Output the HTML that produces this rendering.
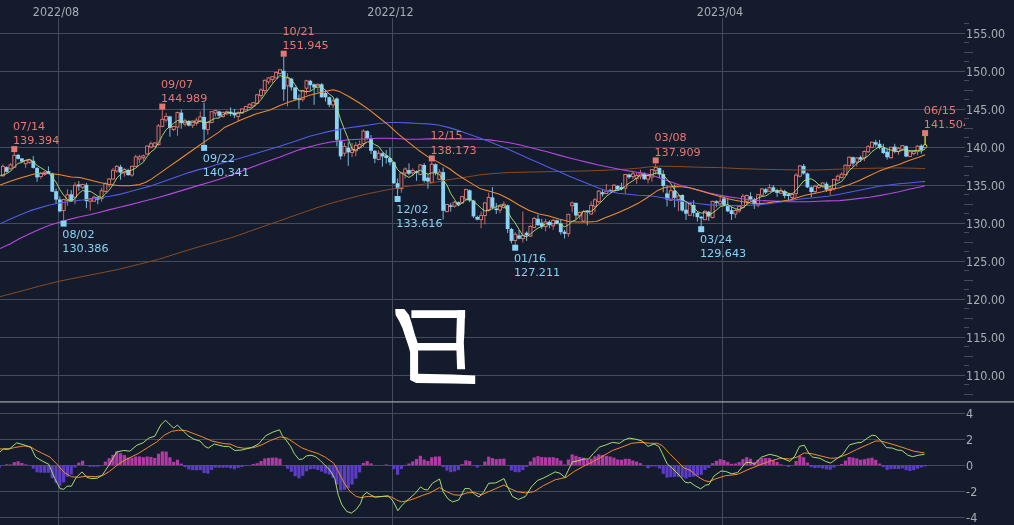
<!DOCTYPE html>
<html><head><meta charset="utf-8"><title>USD/JPY chart</title>
<style>html,body{margin:0;padding:0;background:#141b2c;}body{width:1014px;height:525px;overflow:hidden}</style>
</head><body>
<svg width="1014" height="525" viewBox="0 0 1014 525" style="display:block">
<rect width="1014" height="525" fill="#141b2c"/>
<g stroke="#444b5b" stroke-width="1" shape-rendering="crispEdges">
<line x1="0" y1="375.5" x2="965" y2="375.5"/>
<line x1="0" y1="337.5" x2="965" y2="337.5"/>
<line x1="0" y1="299.5" x2="965" y2="299.5"/>
<line x1="0" y1="261.5" x2="965" y2="261.5"/>
<line x1="0" y1="223.5" x2="965" y2="223.5"/>
<line x1="0" y1="185.5" x2="965" y2="185.5"/>
<line x1="0" y1="147.5" x2="965" y2="147.5"/>
<line x1="0" y1="109.5" x2="965" y2="109.5"/>
<line x1="0" y1="71.5" x2="965" y2="71.5"/>
<line x1="0" y1="33.5" x2="965" y2="33.5"/>
<line x1="0" y1="413.5" x2="965" y2="413.5"/>
<line x1="0" y1="439.5" x2="965" y2="439.5"/>
<line x1="0" y1="465.5" x2="965" y2="465.5"/>
<line x1="0" y1="491.5" x2="965" y2="491.5"/>
<line x1="0" y1="517.5" x2="965" y2="517.5"/>
<line x1="58.5" y1="18" x2="58.5" y2="525"/>
<line x1="392.5" y1="18" x2="392.5" y2="525"/>
<line x1="722.5" y1="18" x2="722.5" y2="525"/>
</g>
<g stroke="#444b5b" stroke-width="1" shape-rendering="crispEdges">
<line x1="964" y1="23.5" x2="969" y2="23.5"/>
<line x1="964" y1="42.5" x2="969" y2="42.5"/>
<line x1="964" y1="52.5" x2="973" y2="52.5"/>
<line x1="964" y1="61.5" x2="969" y2="61.5"/>
<line x1="964" y1="80.5" x2="969" y2="80.5"/>
<line x1="964" y1="90.5" x2="973" y2="90.5"/>
<line x1="964" y1="99.5" x2="969" y2="99.5"/>
<line x1="964" y1="118.5" x2="969" y2="118.5"/>
<line x1="964" y1="128.5" x2="973" y2="128.5"/>
<line x1="964" y1="137.5" x2="969" y2="137.5"/>
<line x1="964" y1="156.5" x2="969" y2="156.5"/>
<line x1="964" y1="166.5" x2="973" y2="166.5"/>
<line x1="964" y1="175.5" x2="969" y2="175.5"/>
<line x1="964" y1="194.5" x2="969" y2="194.5"/>
<line x1="964" y1="204.5" x2="973" y2="204.5"/>
<line x1="964" y1="213.5" x2="969" y2="213.5"/>
<line x1="964" y1="232.5" x2="969" y2="232.5"/>
<line x1="964" y1="242.5" x2="973" y2="242.5"/>
<line x1="964" y1="251.5" x2="969" y2="251.5"/>
<line x1="964" y1="270.5" x2="969" y2="270.5"/>
<line x1="964" y1="280.5" x2="973" y2="280.5"/>
<line x1="964" y1="289.5" x2="969" y2="289.5"/>
<line x1="964" y1="308.5" x2="969" y2="308.5"/>
<line x1="964" y1="318.5" x2="973" y2="318.5"/>
<line x1="964" y1="327.5" x2="969" y2="327.5"/>
<line x1="964" y1="346.5" x2="969" y2="346.5"/>
<line x1="964" y1="356.5" x2="973" y2="356.5"/>
<line x1="964" y1="365.5" x2="969" y2="365.5"/>
<line x1="964" y1="384.5" x2="969" y2="384.5"/>
<line x1="964" y1="394.5" x2="973" y2="394.5"/>
</g>
<rect x="0" y="401.3" width="1014" height="1.2" fill="#a2a6ae"/>
<g font-family='"DejaVu Sans", Verdana, "Liberation Sans", sans-serif' fill="#a9adb5">
<text transform="translate(966.1,379.9) scale(1,1.07)" font-size="11.2">110.00</text>
<text transform="translate(966.1,341.9) scale(1,1.07)" font-size="11.2">115.00</text>
<text transform="translate(966.1,303.9) scale(1,1.07)" font-size="11.2">120.00</text>
<text transform="translate(966.1,265.9) scale(1,1.07)" font-size="11.2">125.00</text>
<text transform="translate(966.1,227.9) scale(1,1.07)" font-size="11.2">130.00</text>
<text transform="translate(966.1,189.9) scale(1,1.07)" font-size="11.2">135.00</text>
<text transform="translate(966.1,151.9) scale(1,1.07)" font-size="11.2">140.00</text>
<text transform="translate(966.1,113.9) scale(1,1.07)" font-size="11.2">145.00</text>
<text transform="translate(966.1,75.9) scale(1,1.07)" font-size="11.2">150.00</text>
<text transform="translate(966.1,37.9) scale(1,1.07)" font-size="11.2">155.00</text>
<text transform="translate(966.1,418.2) scale(1,1.07)" font-size="11.2">4</text>
<text transform="translate(966.1,444.0) scale(1,1.07)" font-size="11.2">2</text>
<text transform="translate(966.1,469.9) scale(1,1.07)" font-size="11.2">0</text>
<text transform="translate(966.1,495.8) scale(1,1.07)" font-size="11.2">-2</text>
<text transform="translate(966.1,521.6) scale(1,1.07)" font-size="11.2">-4</text>
<text transform="translate(56.0,16.0) scale(1,1.07)" font-size="11.2" text-anchor="middle">2022/08</text>
<text transform="translate(390.5,16.0) scale(1,1.07)" font-size="11.2" text-anchor="middle">2022/12</text>
<text transform="translate(720.0,16.0) scale(1,1.07)" font-size="11.2" text-anchor="middle">2023/04</text>
</g>
<defs><clipPath id="c1"><rect x="0" y="18" width="965" height="383"/></clipPath><clipPath id="c2"><rect x="0" y="403" width="965" height="122"/></clipPath></defs>
<g clip-path="url(#c1)">
<line x1="2.92" y1="164.3" x2="2.92" y2="176.6" stroke="#e67872" stroke-width="1" stroke-opacity="0.85"/>
<rect x="1.42" y="166.3" width="3" height="9.5" fill="#141b2c" stroke="#e67872" stroke-width="0.9"/>
<line x1="6.71" y1="166.3" x2="6.71" y2="172.7" stroke="#88d3f6" stroke-width="1" stroke-opacity="0.85"/>
<rect x="4.81" y="167.1" width="3.8" height="4.7" fill="#88d3f6"/>
<line x1="10.51" y1="163.2" x2="10.51" y2="169.5" stroke="#e67872" stroke-width="1" stroke-opacity="0.85"/>
<rect x="9.01" y="164.8" width="3" height="4.0" fill="#141b2c" stroke="#e67872" stroke-width="0.9"/>
<line x1="14.30" y1="152.1" x2="14.30" y2="167.1" stroke="#e67872" stroke-width="1" stroke-opacity="0.85"/>
<rect x="12.80" y="155.3" width="3" height="11.9" fill="#141b2c" stroke="#e67872" stroke-width="0.9"/>
<line x1="18.09" y1="154.2" x2="18.09" y2="159.5" stroke="#88d3f6" stroke-width="1" stroke-opacity="0.85"/>
<rect x="16.20" y="154.8" width="3.8" height="4.1" fill="#88d3f6"/>
<line x1="21.89" y1="158.0" x2="21.89" y2="162.1" stroke="#88d3f6" stroke-width="1" stroke-opacity="0.85"/>
<rect x="19.99" y="158.4" width="3.8" height="3.2" fill="#88d3f6"/>
<line x1="25.69" y1="160.0" x2="25.69" y2="167.9" stroke="#e67872" stroke-width="1" stroke-opacity="0.85"/>
<rect x="24.19" y="160.5" width="3" height="3.2" fill="#141b2c" stroke="#e67872" stroke-width="0.9"/>
<line x1="29.48" y1="159.2" x2="29.48" y2="163.7" stroke="#e67872" stroke-width="1" stroke-opacity="0.85"/>
<rect x="27.98" y="160.0" width="3" height="2.4" fill="#141b2c" stroke="#e67872" stroke-width="0.9"/>
<line x1="33.28" y1="156.1" x2="33.28" y2="168.7" stroke="#88d3f6" stroke-width="1" stroke-opacity="0.85"/>
<rect x="31.38" y="160.8" width="3.8" height="7.1" fill="#88d3f6"/>
<line x1="37.07" y1="167.1" x2="37.07" y2="181.7" stroke="#88d3f6" stroke-width="1" stroke-opacity="0.85"/>
<rect x="35.17" y="167.9" width="3.8" height="9.5" fill="#88d3f6"/>
<line x1="40.86" y1="172.2" x2="40.86" y2="179.0" stroke="#e67872" stroke-width="1" stroke-opacity="0.85"/>
<rect x="39.36" y="173.1" width="3" height="3.5" fill="#141b2c" stroke="#e67872" stroke-width="0.9"/>
<line x1="44.66" y1="171.1" x2="44.66" y2="175.8" stroke="#e67872" stroke-width="1" stroke-opacity="0.85"/>
<rect x="43.16" y="172.2" width="3" height="2.1" fill="#141b2c" stroke="#e67872" stroke-width="0.9"/>
<line x1="48.45" y1="166.3" x2="48.45" y2="174.2" stroke="#88d3f6" stroke-width="1" stroke-opacity="0.85"/>
<rect x="46.55" y="171.1" width="3.8" height="2.4" fill="#88d3f6"/>
<line x1="52.25" y1="172.7" x2="52.25" y2="192.1" stroke="#88d3f6" stroke-width="1" stroke-opacity="0.85"/>
<rect x="50.35" y="173.5" width="3.8" height="18.2" fill="#88d3f6"/>
<line x1="56.05" y1="188.5" x2="56.05" y2="203.5" stroke="#88d3f6" stroke-width="1" stroke-opacity="0.85"/>
<rect x="54.15" y="191.2" width="3.8" height="8.4" fill="#88d3f6"/>
<line x1="59.84" y1="196.4" x2="59.84" y2="212.2" stroke="#88d3f6" stroke-width="1" stroke-opacity="0.85"/>
<rect x="57.94" y="199.5" width="3.8" height="11.9" fill="#88d3f6"/>
<line x1="63.64" y1="198.8" x2="63.64" y2="220.9" stroke="#e67872" stroke-width="1" stroke-opacity="0.85"/>
<rect x="62.14" y="199.5" width="3" height="11.1" fill="#141b2c" stroke="#e67872" stroke-width="0.9"/>
<line x1="67.43" y1="189.3" x2="67.43" y2="205.9" stroke="#e67872" stroke-width="1" stroke-opacity="0.85"/>
<rect x="65.93" y="194.8" width="3" height="5.5" fill="#141b2c" stroke="#e67872" stroke-width="0.9"/>
<line x1="71.22" y1="190.1" x2="71.22" y2="201.9" stroke="#88d3f6" stroke-width="1" stroke-opacity="0.85"/>
<rect x="69.32" y="194.3" width="3.8" height="6.8" fill="#88d3f6"/>
<line x1="75.02" y1="182.2" x2="75.02" y2="204.3" stroke="#e67872" stroke-width="1" stroke-opacity="0.85"/>
<rect x="73.52" y="185.3" width="3" height="11.9" fill="#141b2c" stroke="#e67872" stroke-width="0.9"/>
<line x1="78.81" y1="181.0" x2="78.81" y2="190.8" stroke="#88d3f6" stroke-width="1" stroke-opacity="0.85"/>
<rect x="76.91" y="184.5" width="3.8" height="1.9" fill="#88d3f6"/>
<line x1="82.61" y1="183.7" x2="82.61" y2="189.3" stroke="#e67872" stroke-width="1" stroke-opacity="0.85"/>
<rect x="81.11" y="184.5" width="3" height="2.8" fill="#141b2c" stroke="#e67872" stroke-width="0.9"/>
<line x1="86.41" y1="182.9" x2="86.41" y2="208.2" stroke="#88d3f6" stroke-width="1" stroke-opacity="0.85"/>
<rect x="84.50" y="184.8" width="3.8" height="16.3" fill="#88d3f6"/>
<line x1="90.20" y1="198.0" x2="90.20" y2="210.6" stroke="#e67872" stroke-width="1" stroke-opacity="0.85"/>
<rect x="88.70" y="198.8" width="3" height="2.4" fill="#141b2c" stroke="#e67872" stroke-width="0.9"/>
<line x1="93.99" y1="195.6" x2="93.99" y2="201.9" stroke="#e67872" stroke-width="1" stroke-opacity="0.85"/>
<rect x="92.49" y="197.2" width="3" height="4.0" fill="#141b2c" stroke="#e67872" stroke-width="0.9"/>
<line x1="97.79" y1="196.4" x2="97.79" y2="204.3" stroke="#88d3f6" stroke-width="1" stroke-opacity="0.85"/>
<rect x="95.89" y="197.2" width="3.8" height="2.4" fill="#88d3f6"/>
<line x1="101.58" y1="187.7" x2="101.58" y2="201.6" stroke="#e67872" stroke-width="1" stroke-opacity="0.85"/>
<rect x="100.08" y="190.8" width="3" height="7.9" fill="#141b2c" stroke="#e67872" stroke-width="0.9"/>
<line x1="105.38" y1="182.2" x2="105.38" y2="192.4" stroke="#e67872" stroke-width="1" stroke-opacity="0.85"/>
<rect x="103.88" y="183.7" width="3" height="7.9" fill="#141b2c" stroke="#e67872" stroke-width="0.9"/>
<line x1="109.17" y1="178.2" x2="109.17" y2="187.4" stroke="#e67872" stroke-width="1" stroke-opacity="0.85"/>
<rect x="107.67" y="179.0" width="3" height="5.5" fill="#141b2c" stroke="#e67872" stroke-width="0.9"/>
<line x1="112.97" y1="167.9" x2="112.97" y2="179.8" stroke="#e67872" stroke-width="1" stroke-opacity="0.85"/>
<rect x="111.47" y="170.3" width="3" height="8.7" fill="#141b2c" stroke="#e67872" stroke-width="0.9"/>
<line x1="116.77" y1="165.2" x2="116.77" y2="172.7" stroke="#e67872" stroke-width="1" stroke-opacity="0.85"/>
<rect x="115.27" y="166.3" width="3" height="4.7" fill="#141b2c" stroke="#e67872" stroke-width="0.9"/>
<line x1="120.56" y1="164.8" x2="120.56" y2="179.8" stroke="#88d3f6" stroke-width="1" stroke-opacity="0.85"/>
<rect x="118.66" y="166.8" width="3.8" height="5.8" fill="#88d3f6"/>
<line x1="124.35" y1="167.9" x2="124.35" y2="176.6" stroke="#e67872" stroke-width="1" stroke-opacity="0.85"/>
<rect x="122.85" y="169.5" width="3" height="3.2" fill="#141b2c" stroke="#e67872" stroke-width="0.9"/>
<line x1="128.15" y1="168.7" x2="128.15" y2="175.8" stroke="#88d3f6" stroke-width="1" stroke-opacity="0.85"/>
<rect x="126.25" y="170.0" width="3.8" height="5.1" fill="#88d3f6"/>
<line x1="131.94" y1="165.6" x2="131.94" y2="176.6" stroke="#e67872" stroke-width="1" stroke-opacity="0.85"/>
<rect x="130.44" y="166.3" width="3" height="8.7" fill="#141b2c" stroke="#e67872" stroke-width="0.9"/>
<line x1="135.74" y1="154.8" x2="135.74" y2="167.1" stroke="#e67872" stroke-width="1" stroke-opacity="0.85"/>
<rect x="134.24" y="156.9" width="3" height="9.5" fill="#141b2c" stroke="#e67872" stroke-width="0.9"/>
<line x1="139.53" y1="154.8" x2="139.53" y2="163.2" stroke="#e67872" stroke-width="1" stroke-opacity="0.85"/>
<rect x="138.03" y="156.9" width="3" height="2.1" fill="#141b2c" stroke="#e67872" stroke-width="0.9"/>
<line x1="143.33" y1="154.5" x2="143.33" y2="160.8" stroke="#e67872" stroke-width="1" stroke-opacity="0.85"/>
<rect x="141.83" y="155.8" width="3" height="1.9" fill="#141b2c" stroke="#e67872" stroke-width="0.9"/>
<line x1="147.12" y1="145.4" x2="147.12" y2="154.8" stroke="#e67872" stroke-width="1" stroke-opacity="0.85"/>
<rect x="145.62" y="146.1" width="3" height="7.9" fill="#141b2c" stroke="#e67872" stroke-width="0.9"/>
<line x1="150.92" y1="141.4" x2="150.92" y2="148.5" stroke="#e67872" stroke-width="1" stroke-opacity="0.85"/>
<rect x="149.42" y="143.8" width="3" height="3.2" fill="#141b2c" stroke="#e67872" stroke-width="0.9"/>
<line x1="154.72" y1="142.2" x2="154.72" y2="146.9" stroke="#e67872" stroke-width="1" stroke-opacity="0.85"/>
<rect x="153.22" y="143.0" width="3" height="3.2" fill="#141b2c" stroke="#e67872" stroke-width="0.9"/>
<line x1="158.51" y1="124.0" x2="158.51" y2="145.4" stroke="#e67872" stroke-width="1" stroke-opacity="0.85"/>
<rect x="157.01" y="125.9" width="3" height="18.7" fill="#141b2c" stroke="#e67872" stroke-width="0.9"/>
<line x1="162.31" y1="109.0" x2="162.31" y2="127.2" stroke="#e67872" stroke-width="1" stroke-opacity="0.85"/>
<rect x="160.81" y="119.3" width="3" height="7.1" fill="#141b2c" stroke="#e67872" stroke-width="0.9"/>
<line x1="166.10" y1="112.9" x2="166.10" y2="122.4" stroke="#e67872" stroke-width="1" stroke-opacity="0.85"/>
<rect x="164.60" y="116.4" width="3" height="3.6" fill="#141b2c" stroke="#e67872" stroke-width="0.9"/>
<line x1="169.90" y1="115.8" x2="169.90" y2="136.7" stroke="#88d3f6" stroke-width="1" stroke-opacity="0.85"/>
<rect x="168.00" y="116.4" width="3.8" height="11.5" fill="#88d3f6"/>
<line x1="173.69" y1="125.6" x2="173.69" y2="131.1" stroke="#e67872" stroke-width="1" stroke-opacity="0.85"/>
<rect x="172.19" y="126.4" width="3" height="3.2" fill="#141b2c" stroke="#e67872" stroke-width="0.9"/>
<line x1="177.49" y1="111.7" x2="177.49" y2="135.9" stroke="#e67872" stroke-width="1" stroke-opacity="0.85"/>
<rect x="175.99" y="112.6" width="3" height="14.5" fill="#141b2c" stroke="#e67872" stroke-width="0.9"/>
<line x1="181.28" y1="109.5" x2="181.28" y2="128.8" stroke="#88d3f6" stroke-width="1" stroke-opacity="0.85"/>
<rect x="179.38" y="112.6" width="3.8" height="10.6" fill="#88d3f6"/>
<line x1="185.08" y1="118.5" x2="185.08" y2="126.4" stroke="#e67872" stroke-width="1" stroke-opacity="0.85"/>
<rect x="183.58" y="120.8" width="3" height="3.2" fill="#141b2c" stroke="#e67872" stroke-width="0.9"/>
<line x1="188.87" y1="120.1" x2="188.87" y2="126.4" stroke="#88d3f6" stroke-width="1" stroke-opacity="0.85"/>
<rect x="186.97" y="121.2" width="3.8" height="4.4" fill="#88d3f6"/>
<line x1="192.67" y1="121.6" x2="192.67" y2="128.0" stroke="#e67872" stroke-width="1" stroke-opacity="0.85"/>
<rect x="191.17" y="122.4" width="3" height="2.8" fill="#141b2c" stroke="#e67872" stroke-width="0.9"/>
<line x1="196.46" y1="117.7" x2="196.46" y2="125.6" stroke="#e67872" stroke-width="1" stroke-opacity="0.85"/>
<rect x="194.96" y="120.1" width="3" height="3.2" fill="#141b2c" stroke="#e67872" stroke-width="0.9"/>
<line x1="200.25" y1="111.4" x2="200.25" y2="122.4" stroke="#e67872" stroke-width="1" stroke-opacity="0.85"/>
<rect x="198.75" y="116.9" width="3" height="4.0" fill="#141b2c" stroke="#e67872" stroke-width="0.9"/>
<line x1="204.05" y1="102.7" x2="204.05" y2="145.4" stroke="#88d3f6" stroke-width="1" stroke-opacity="0.85"/>
<rect x="202.15" y="116.9" width="3.8" height="12.6" fill="#88d3f6"/>
<line x1="207.84" y1="121.6" x2="207.84" y2="134.8" stroke="#e67872" stroke-width="1" stroke-opacity="0.85"/>
<rect x="206.34" y="122.4" width="3" height="7.1" fill="#141b2c" stroke="#e67872" stroke-width="0.9"/>
<line x1="211.64" y1="111.0" x2="211.64" y2="123.2" stroke="#e67872" stroke-width="1" stroke-opacity="0.85"/>
<rect x="210.14" y="111.7" width="3" height="10.8" fill="#141b2c" stroke="#e67872" stroke-width="0.9"/>
<line x1="215.44" y1="109.8" x2="215.44" y2="116.4" stroke="#e67872" stroke-width="1" stroke-opacity="0.85"/>
<rect x="213.94" y="110.6" width="3" height="2.4" fill="#141b2c" stroke="#e67872" stroke-width="0.9"/>
<line x1="219.23" y1="110.6" x2="219.23" y2="117.7" stroke="#88d3f6" stroke-width="1" stroke-opacity="0.85"/>
<rect x="217.33" y="111.4" width="3.8" height="4.4" fill="#88d3f6"/>
<line x1="223.03" y1="111.4" x2="223.03" y2="117.7" stroke="#e67872" stroke-width="1" stroke-opacity="0.85"/>
<rect x="221.53" y="112.6" width="3" height="3.8" fill="#141b2c" stroke="#e67872" stroke-width="0.9"/>
<line x1="226.82" y1="110.6" x2="226.82" y2="115.3" stroke="#e67872" stroke-width="1" stroke-opacity="0.85"/>
<rect x="225.32" y="111.7" width="3" height="2.1" fill="#141b2c" stroke="#e67872" stroke-width="0.9"/>
<line x1="230.62" y1="107.4" x2="230.62" y2="116.1" stroke="#88d3f6" stroke-width="1" stroke-opacity="0.85"/>
<rect x="228.72" y="111.7" width="3.8" height="2.1" fill="#88d3f6"/>
<line x1="234.41" y1="109.0" x2="234.41" y2="118.0" stroke="#88d3f6" stroke-width="1" stroke-opacity="0.85"/>
<rect x="232.51" y="112.6" width="3.8" height="2.7" fill="#88d3f6"/>
<line x1="238.21" y1="111.4" x2="238.21" y2="121.2" stroke="#e67872" stroke-width="1" stroke-opacity="0.85"/>
<rect x="236.71" y="112.6" width="3" height="3.8" fill="#141b2c" stroke="#e67872" stroke-width="0.9"/>
<line x1="242.00" y1="108.2" x2="242.00" y2="113.7" stroke="#e67872" stroke-width="1" stroke-opacity="0.85"/>
<rect x="240.50" y="109.0" width="3" height="4.0" fill="#141b2c" stroke="#e67872" stroke-width="0.9"/>
<line x1="245.80" y1="105.8" x2="245.80" y2="110.6" stroke="#e67872" stroke-width="1" stroke-opacity="0.85"/>
<rect x="244.30" y="106.6" width="3" height="3.2" fill="#141b2c" stroke="#e67872" stroke-width="0.9"/>
<line x1="249.59" y1="103.5" x2="249.59" y2="108.2" stroke="#e67872" stroke-width="1" stroke-opacity="0.85"/>
<rect x="248.09" y="104.2" width="3" height="3.2" fill="#141b2c" stroke="#e67872" stroke-width="0.9"/>
<line x1="253.39" y1="101.9" x2="253.39" y2="106.6" stroke="#e67872" stroke-width="1" stroke-opacity="0.85"/>
<rect x="251.89" y="102.7" width="3" height="3.2" fill="#141b2c" stroke="#e67872" stroke-width="0.9"/>
<line x1="257.18" y1="94.0" x2="257.18" y2="104.2" stroke="#e67872" stroke-width="1" stroke-opacity="0.85"/>
<rect x="255.68" y="94.8" width="3" height="8.7" fill="#141b2c" stroke="#e67872" stroke-width="0.9"/>
<line x1="260.97" y1="88.4" x2="260.97" y2="98.7" stroke="#e67872" stroke-width="1" stroke-opacity="0.85"/>
<rect x="259.47" y="90.0" width="3" height="5.5" fill="#141b2c" stroke="#e67872" stroke-width="0.9"/>
<line x1="264.77" y1="79.5" x2="264.77" y2="93.8" stroke="#e67872" stroke-width="1" stroke-opacity="0.85"/>
<rect x="263.27" y="80.3" width="3" height="10.3" fill="#141b2c" stroke="#e67872" stroke-width="0.9"/>
<line x1="268.56" y1="77.2" x2="268.56" y2="84.3" stroke="#e67872" stroke-width="1" stroke-opacity="0.85"/>
<rect x="267.06" y="77.9" width="3" height="4.0" fill="#141b2c" stroke="#e67872" stroke-width="0.9"/>
<line x1="272.36" y1="76.0" x2="272.36" y2="82.7" stroke="#e67872" stroke-width="1" stroke-opacity="0.85"/>
<rect x="270.86" y="76.7" width="3" height="2.8" fill="#141b2c" stroke="#e67872" stroke-width="0.9"/>
<line x1="276.16" y1="71.6" x2="276.16" y2="78.7" stroke="#e67872" stroke-width="1" stroke-opacity="0.85"/>
<rect x="274.66" y="72.4" width="3" height="5.5" fill="#141b2c" stroke="#e67872" stroke-width="0.9"/>
<line x1="279.95" y1="68.9" x2="279.95" y2="74.5" stroke="#e67872" stroke-width="1" stroke-opacity="0.85"/>
<rect x="278.45" y="69.7" width="3" height="3.8" fill="#141b2c" stroke="#e67872" stroke-width="0.9"/>
<line x1="283.75" y1="56.6" x2="283.75" y2="100.9" stroke="#88d3f6" stroke-width="1" stroke-opacity="0.85"/>
<rect x="281.85" y="70.8" width="3.8" height="18.5" fill="#88d3f6"/>
<line x1="287.54" y1="73.2" x2="287.54" y2="106.4" stroke="#e67872" stroke-width="1" stroke-opacity="0.85"/>
<rect x="286.04" y="77.9" width="3" height="7.9" fill="#141b2c" stroke="#e67872" stroke-width="0.9"/>
<line x1="291.33" y1="77.9" x2="291.33" y2="90.6" stroke="#88d3f6" stroke-width="1" stroke-opacity="0.85"/>
<rect x="289.44" y="78.7" width="3.8" height="8.7" fill="#88d3f6"/>
<line x1="295.13" y1="86.6" x2="295.13" y2="100.1" stroke="#88d3f6" stroke-width="1" stroke-opacity="0.85"/>
<rect x="293.23" y="87.4" width="3.8" height="11.9" fill="#88d3f6"/>
<line x1="298.93" y1="94.5" x2="298.93" y2="108.8" stroke="#88d3f6" stroke-width="1" stroke-opacity="0.85"/>
<rect x="297.03" y="98.2" width="3.8" height="1.9" fill="#88d3f6"/>
<line x1="302.72" y1="89.8" x2="302.72" y2="101.7" stroke="#e67872" stroke-width="1" stroke-opacity="0.85"/>
<rect x="301.22" y="90.6" width="3" height="8.7" fill="#141b2c" stroke="#e67872" stroke-width="0.9"/>
<line x1="306.51" y1="79.8" x2="306.51" y2="94.5" stroke="#e67872" stroke-width="1" stroke-opacity="0.85"/>
<rect x="305.01" y="80.8" width="3" height="7.4" fill="#141b2c" stroke="#e67872" stroke-width="0.9"/>
<line x1="310.31" y1="79.8" x2="310.31" y2="90.6" stroke="#88d3f6" stroke-width="1" stroke-opacity="0.85"/>
<rect x="308.41" y="80.8" width="3.8" height="4.3" fill="#88d3f6"/>
<line x1="314.11" y1="83.5" x2="314.11" y2="104.8" stroke="#88d3f6" stroke-width="1" stroke-opacity="0.85"/>
<rect x="312.21" y="84.3" width="3.8" height="3.2" fill="#88d3f6"/>
<line x1="317.90" y1="83.5" x2="317.90" y2="92.2" stroke="#e67872" stroke-width="1" stroke-opacity="0.85"/>
<rect x="316.40" y="84.3" width="3" height="3.2" fill="#141b2c" stroke="#e67872" stroke-width="0.9"/>
<line x1="321.69" y1="83.0" x2="321.69" y2="97.7" stroke="#88d3f6" stroke-width="1" stroke-opacity="0.85"/>
<rect x="319.80" y="84.3" width="3.8" height="13.0" fill="#88d3f6"/>
<line x1="325.49" y1="89.8" x2="325.49" y2="101.7" stroke="#88d3f6" stroke-width="1" stroke-opacity="0.85"/>
<rect x="323.59" y="93.0" width="3.8" height="4.3" fill="#88d3f6"/>
<line x1="329.29" y1="96.6" x2="329.29" y2="107.2" stroke="#88d3f6" stroke-width="1" stroke-opacity="0.85"/>
<rect x="327.39" y="97.2" width="3.8" height="7.6" fill="#88d3f6"/>
<line x1="333.08" y1="99.3" x2="333.08" y2="108.3" stroke="#e67872" stroke-width="1" stroke-opacity="0.85"/>
<rect x="331.58" y="100.9" width="3" height="4.0" fill="#141b2c" stroke="#e67872" stroke-width="0.9"/>
<line x1="336.88" y1="97.3" x2="336.88" y2="146.4" stroke="#88d3f6" stroke-width="1" stroke-opacity="0.85"/>
<rect x="334.98" y="98.5" width="3.8" height="41.3" fill="#88d3f6"/>
<line x1="340.67" y1="128.7" x2="340.67" y2="159.5" stroke="#88d3f6" stroke-width="1" stroke-opacity="0.85"/>
<rect x="338.77" y="140.1" width="3.8" height="16.3" fill="#88d3f6"/>
<line x1="344.47" y1="142.9" x2="344.47" y2="156.4" stroke="#e67872" stroke-width="1" stroke-opacity="0.85"/>
<rect x="342.97" y="146.4" width="3" height="6.8" fill="#141b2c" stroke="#e67872" stroke-width="0.9"/>
<line x1="348.26" y1="142.2" x2="348.26" y2="165.9" stroke="#88d3f6" stroke-width="1" stroke-opacity="0.85"/>
<rect x="346.36" y="147.7" width="3.8" height="4.7" fill="#88d3f6"/>
<line x1="352.06" y1="142.9" x2="352.06" y2="157.2" stroke="#e67872" stroke-width="1" stroke-opacity="0.85"/>
<rect x="350.56" y="150.1" width="3" height="2.4" fill="#141b2c" stroke="#e67872" stroke-width="0.9"/>
<line x1="355.85" y1="142.2" x2="355.85" y2="156.4" stroke="#e67872" stroke-width="1" stroke-opacity="0.85"/>
<rect x="354.35" y="145.3" width="3" height="5.5" fill="#141b2c" stroke="#e67872" stroke-width="0.9"/>
<line x1="359.64" y1="140.6" x2="359.64" y2="149.3" stroke="#e67872" stroke-width="1" stroke-opacity="0.85"/>
<rect x="358.14" y="144.5" width="3" height="3.2" fill="#141b2c" stroke="#e67872" stroke-width="0.9"/>
<line x1="363.44" y1="129.5" x2="363.44" y2="146.9" stroke="#e67872" stroke-width="1" stroke-opacity="0.85"/>
<rect x="361.94" y="131.1" width="3" height="12.6" fill="#141b2c" stroke="#e67872" stroke-width="0.9"/>
<line x1="367.24" y1="130.3" x2="367.24" y2="139.8" stroke="#88d3f6" stroke-width="1" stroke-opacity="0.85"/>
<rect x="365.34" y="131.1" width="3.8" height="7.1" fill="#88d3f6"/>
<line x1="371.03" y1="135.0" x2="371.03" y2="154.0" stroke="#88d3f6" stroke-width="1" stroke-opacity="0.85"/>
<rect x="369.13" y="138.2" width="3.8" height="12.6" fill="#88d3f6"/>
<line x1="374.82" y1="150.1" x2="374.82" y2="163.2" stroke="#88d3f6" stroke-width="1" stroke-opacity="0.85"/>
<rect x="372.93" y="150.8" width="3.8" height="7.9" fill="#88d3f6"/>
<line x1="378.62" y1="150.1" x2="378.62" y2="160.3" stroke="#e67872" stroke-width="1" stroke-opacity="0.85"/>
<rect x="377.12" y="153.2" width="3" height="6.3" fill="#141b2c" stroke="#e67872" stroke-width="0.9"/>
<line x1="382.42" y1="152.4" x2="382.42" y2="166.7" stroke="#88d3f6" stroke-width="1" stroke-opacity="0.85"/>
<rect x="380.52" y="153.2" width="3.8" height="3.2" fill="#88d3f6"/>
<line x1="386.21" y1="150.1" x2="386.21" y2="163.5" stroke="#88d3f6" stroke-width="1" stroke-opacity="0.85"/>
<rect x="384.31" y="155.3" width="3.8" height="2.7" fill="#88d3f6"/>
<line x1="390.00" y1="147.7" x2="390.00" y2="165.4" stroke="#88d3f6" stroke-width="1" stroke-opacity="0.85"/>
<rect x="388.11" y="158.0" width="3.8" height="4.3" fill="#88d3f6"/>
<line x1="393.80" y1="161.5" x2="393.80" y2="184.0" stroke="#88d3f6" stroke-width="1" stroke-opacity="0.85"/>
<rect x="391.90" y="162.2" width="3.8" height="21.0" fill="#88d3f6"/>
<line x1="397.60" y1="178.4" x2="397.60" y2="195.8" stroke="#88d3f6" stroke-width="1" stroke-opacity="0.85"/>
<rect x="395.70" y="183.2" width="3.8" height="5.5" fill="#88d3f6"/>
<line x1="401.39" y1="172.1" x2="401.39" y2="192.7" stroke="#e67872" stroke-width="1" stroke-opacity="0.85"/>
<rect x="399.89" y="172.9" width="3" height="15.8" fill="#141b2c" stroke="#e67872" stroke-width="0.9"/>
<line x1="405.19" y1="167.4" x2="405.19" y2="178.4" stroke="#e67872" stroke-width="1" stroke-opacity="0.85"/>
<rect x="403.69" y="169.0" width="3" height="4.0" fill="#141b2c" stroke="#e67872" stroke-width="0.9"/>
<line x1="408.98" y1="163.4" x2="408.98" y2="175.3" stroke="#88d3f6" stroke-width="1" stroke-opacity="0.85"/>
<rect x="407.08" y="170.1" width="3.8" height="3.6" fill="#88d3f6"/>
<line x1="412.77" y1="168.2" x2="412.77" y2="176.1" stroke="#e67872" stroke-width="1" stroke-opacity="0.85"/>
<rect x="411.27" y="170.5" width="3" height="2.4" fill="#141b2c" stroke="#e67872" stroke-width="0.9"/>
<line x1="416.57" y1="170.5" x2="416.57" y2="180.8" stroke="#88d3f6" stroke-width="1" stroke-opacity="0.85"/>
<rect x="414.67" y="171.3" width="3.8" height="1.6" fill="#88d3f6"/>
<line x1="420.37" y1="164.2" x2="420.37" y2="175.3" stroke="#e67872" stroke-width="1" stroke-opacity="0.85"/>
<rect x="418.87" y="165.0" width="3" height="9.5" fill="#141b2c" stroke="#e67872" stroke-width="0.9"/>
<line x1="424.16" y1="163.1" x2="424.16" y2="182.4" stroke="#88d3f6" stroke-width="1" stroke-opacity="0.85"/>
<rect x="422.26" y="165.0" width="3.8" height="15.8" fill="#88d3f6"/>
<line x1="427.95" y1="174.5" x2="427.95" y2="188.7" stroke="#88d3f6" stroke-width="1" stroke-opacity="0.85"/>
<rect x="426.06" y="177.6" width="3.8" height="4.0" fill="#88d3f6"/>
<line x1="431.75" y1="161.8" x2="431.75" y2="183.2" stroke="#e67872" stroke-width="1" stroke-opacity="0.85"/>
<rect x="430.25" y="164.2" width="3" height="18.2" fill="#141b2c" stroke="#e67872" stroke-width="0.9"/>
<line x1="435.55" y1="163.4" x2="435.55" y2="175.3" stroke="#88d3f6" stroke-width="1" stroke-opacity="0.85"/>
<rect x="433.65" y="164.2" width="3.8" height="8.7" fill="#88d3f6"/>
<line x1="439.34" y1="169.0" x2="439.34" y2="180.0" stroke="#e67872" stroke-width="1" stroke-opacity="0.85"/>
<rect x="437.84" y="172.1" width="3" height="7.1" fill="#141b2c" stroke="#e67872" stroke-width="0.9"/>
<line x1="443.13" y1="167.4" x2="443.13" y2="219.5" stroke="#88d3f6" stroke-width="1" stroke-opacity="0.85"/>
<rect x="441.24" y="172.1" width="3.8" height="38.7" fill="#88d3f6"/>
<line x1="446.93" y1="203.7" x2="446.93" y2="212.4" stroke="#e67872" stroke-width="1" stroke-opacity="0.85"/>
<rect x="445.43" y="204.5" width="3" height="7.1" fill="#141b2c" stroke="#e67872" stroke-width="0.9"/>
<line x1="450.73" y1="202.9" x2="450.73" y2="211.6" stroke="#88d3f6" stroke-width="1" stroke-opacity="0.85"/>
<rect x="448.83" y="205.3" width="3.8" height="1.6" fill="#88d3f6"/>
<line x1="454.52" y1="201.0" x2="454.52" y2="207.7" stroke="#e67872" stroke-width="1" stroke-opacity="0.85"/>
<rect x="453.02" y="202.2" width="3" height="4.0" fill="#141b2c" stroke="#e67872" stroke-width="0.9"/>
<line x1="458.31" y1="201.4" x2="458.31" y2="206.1" stroke="#88d3f6" stroke-width="1" stroke-opacity="0.85"/>
<rect x="456.42" y="202.2" width="3.8" height="2.4" fill="#88d3f6"/>
<line x1="462.11" y1="195.8" x2="462.11" y2="203.7" stroke="#e67872" stroke-width="1" stroke-opacity="0.85"/>
<rect x="460.61" y="196.6" width="3" height="6.3" fill="#141b2c" stroke="#e67872" stroke-width="0.9"/>
<line x1="465.91" y1="188.7" x2="465.91" y2="200.6" stroke="#e67872" stroke-width="1" stroke-opacity="0.85"/>
<rect x="464.41" y="189.5" width="3" height="9.5" fill="#141b2c" stroke="#e67872" stroke-width="0.9"/>
<line x1="469.70" y1="189.5" x2="469.70" y2="202.2" stroke="#88d3f6" stroke-width="1" stroke-opacity="0.85"/>
<rect x="467.80" y="190.3" width="3.8" height="10.3" fill="#88d3f6"/>
<line x1="473.50" y1="199.8" x2="473.50" y2="218.0" stroke="#88d3f6" stroke-width="1" stroke-opacity="0.85"/>
<rect x="471.60" y="200.6" width="3.8" height="15.8" fill="#88d3f6"/>
<line x1="477.29" y1="215.6" x2="477.29" y2="220.3" stroke="#88d3f6" stroke-width="1" stroke-opacity="0.85"/>
<rect x="475.39" y="216.9" width="3.8" height="2.7" fill="#88d3f6"/>
<line x1="481.08" y1="211.6" x2="481.08" y2="228.2" stroke="#e67872" stroke-width="1" stroke-opacity="0.85"/>
<rect x="479.58" y="215.6" width="3" height="4.0" fill="#141b2c" stroke="#e67872" stroke-width="0.9"/>
<line x1="484.88" y1="202.2" x2="484.88" y2="224.3" stroke="#e67872" stroke-width="1" stroke-opacity="0.85"/>
<rect x="483.38" y="202.9" width="3" height="12.6" fill="#141b2c" stroke="#e67872" stroke-width="0.9"/>
<line x1="488.68" y1="192.7" x2="488.68" y2="211.6" stroke="#e67872" stroke-width="1" stroke-opacity="0.85"/>
<rect x="487.18" y="197.4" width="3" height="12.6" fill="#141b2c" stroke="#e67872" stroke-width="0.9"/>
<line x1="492.47" y1="187.1" x2="492.47" y2="209.3" stroke="#88d3f6" stroke-width="1" stroke-opacity="0.85"/>
<rect x="490.57" y="197.4" width="3.8" height="10.3" fill="#88d3f6"/>
<line x1="496.26" y1="202.9" x2="496.26" y2="214.0" stroke="#88d3f6" stroke-width="1" stroke-opacity="0.85"/>
<rect x="494.37" y="208.5" width="3.8" height="1.6" fill="#88d3f6"/>
<line x1="500.06" y1="205.3" x2="500.06" y2="213.2" stroke="#e67872" stroke-width="1" stroke-opacity="0.85"/>
<rect x="498.56" y="206.4" width="3" height="3.6" fill="#141b2c" stroke="#e67872" stroke-width="0.9"/>
<line x1="503.86" y1="201.4" x2="503.86" y2="208.5" stroke="#e67872" stroke-width="1" stroke-opacity="0.85"/>
<rect x="502.36" y="204.2" width="3" height="3.2" fill="#141b2c" stroke="#e67872" stroke-width="0.9"/>
<line x1="507.65" y1="204.5" x2="507.65" y2="233.0" stroke="#88d3f6" stroke-width="1" stroke-opacity="0.85"/>
<rect x="505.75" y="205.3" width="3.8" height="23.7" fill="#88d3f6"/>
<line x1="511.44" y1="227.9" x2="511.44" y2="243.3" stroke="#88d3f6" stroke-width="1" stroke-opacity="0.85"/>
<rect x="509.55" y="229.0" width="3.8" height="11.9" fill="#88d3f6"/>
<line x1="515.24" y1="232.2" x2="515.24" y2="244.8" stroke="#e67872" stroke-width="1" stroke-opacity="0.85"/>
<rect x="513.74" y="234.2" width="3" height="6.3" fill="#141b2c" stroke="#e67872" stroke-width="0.9"/>
<line x1="519.03" y1="229.8" x2="519.03" y2="239.3" stroke="#88d3f6" stroke-width="1" stroke-opacity="0.85"/>
<rect x="517.13" y="235.4" width="3.8" height="3.2" fill="#88d3f6"/>
<line x1="522.83" y1="211.6" x2="522.83" y2="242.5" stroke="#e67872" stroke-width="1" stroke-opacity="0.85"/>
<rect x="521.33" y="235.4" width="3" height="3.2" fill="#141b2c" stroke="#e67872" stroke-width="0.9"/>
<line x1="526.62" y1="231.4" x2="526.62" y2="240.9" stroke="#88d3f6" stroke-width="1" stroke-opacity="0.85"/>
<rect x="524.73" y="232.7" width="3.8" height="2.7" fill="#88d3f6"/>
<line x1="530.42" y1="225.4" x2="530.42" y2="236.9" stroke="#e67872" stroke-width="1" stroke-opacity="0.85"/>
<rect x="528.92" y="226.3" width="3" height="9.8" fill="#141b2c" stroke="#e67872" stroke-width="0.9"/>
<line x1="534.21" y1="216.9" x2="534.21" y2="228.2" stroke="#e67872" stroke-width="1" stroke-opacity="0.85"/>
<rect x="532.71" y="218.4" width="3" height="9.0" fill="#141b2c" stroke="#e67872" stroke-width="0.9"/>
<line x1="538.01" y1="214.8" x2="538.01" y2="225.9" stroke="#88d3f6" stroke-width="1" stroke-opacity="0.85"/>
<rect x="536.11" y="218.8" width="3.8" height="6.3" fill="#88d3f6"/>
<line x1="541.80" y1="218.8" x2="541.80" y2="229.0" stroke="#88d3f6" stroke-width="1" stroke-opacity="0.85"/>
<rect x="539.90" y="222.7" width="3.8" height="4.0" fill="#88d3f6"/>
<line x1="545.60" y1="218.8" x2="545.60" y2="231.4" stroke="#e67872" stroke-width="1" stroke-opacity="0.85"/>
<rect x="544.10" y="221.9" width="3" height="4.7" fill="#141b2c" stroke="#e67872" stroke-width="0.9"/>
<line x1="549.39" y1="220.3" x2="549.39" y2="228.2" stroke="#88d3f6" stroke-width="1" stroke-opacity="0.85"/>
<rect x="547.50" y="221.9" width="3.8" height="3.2" fill="#88d3f6"/>
<line x1="553.19" y1="218.8" x2="553.19" y2="229.8" stroke="#e67872" stroke-width="1" stroke-opacity="0.85"/>
<rect x="551.69" y="220.3" width="3" height="5.5" fill="#141b2c" stroke="#e67872" stroke-width="0.9"/>
<line x1="556.98" y1="219.5" x2="556.98" y2="224.3" stroke="#88d3f6" stroke-width="1" stroke-opacity="0.85"/>
<rect x="555.08" y="220.3" width="3.8" height="2.8" fill="#88d3f6"/>
<line x1="560.78" y1="219.5" x2="560.78" y2="234.6" stroke="#88d3f6" stroke-width="1" stroke-opacity="0.85"/>
<rect x="558.88" y="223.2" width="3.8" height="9.0" fill="#88d3f6"/>
<line x1="564.57" y1="229.8" x2="564.57" y2="238.5" stroke="#88d3f6" stroke-width="1" stroke-opacity="0.85"/>
<rect x="562.67" y="231.7" width="3.8" height="2.1" fill="#88d3f6"/>
<line x1="568.37" y1="213.7" x2="568.37" y2="236.9" stroke="#e67872" stroke-width="1" stroke-opacity="0.85"/>
<rect x="566.87" y="214.3" width="3" height="19.4" fill="#141b2c" stroke="#e67872" stroke-width="0.9"/>
<line x1="572.16" y1="201.4" x2="572.16" y2="212.4" stroke="#e67872" stroke-width="1" stroke-opacity="0.85"/>
<rect x="570.66" y="202.9" width="3" height="2.8" fill="#141b2c" stroke="#e67872" stroke-width="0.9"/>
<line x1="575.96" y1="202.6" x2="575.96" y2="219.5" stroke="#88d3f6" stroke-width="1" stroke-opacity="0.85"/>
<rect x="574.06" y="202.9" width="3.8" height="12.6" fill="#88d3f6"/>
<line x1="579.75" y1="211.6" x2="579.75" y2="219.5" stroke="#e67872" stroke-width="1" stroke-opacity="0.85"/>
<rect x="578.25" y="212.4" width="3" height="3.5" fill="#141b2c" stroke="#e67872" stroke-width="0.9"/>
<line x1="583.55" y1="210.1" x2="583.55" y2="221.9" stroke="#e67872" stroke-width="1" stroke-opacity="0.85"/>
<rect x="582.05" y="211.6" width="3" height="9.5" fill="#141b2c" stroke="#e67872" stroke-width="0.9"/>
<line x1="587.34" y1="210.1" x2="587.34" y2="225.4" stroke="#88d3f6" stroke-width="1" stroke-opacity="0.85"/>
<rect x="585.44" y="210.8" width="3.8" height="1.6" fill="#88d3f6"/>
<line x1="591.14" y1="201.4" x2="591.14" y2="214.8" stroke="#e67872" stroke-width="1" stroke-opacity="0.85"/>
<rect x="589.64" y="205.3" width="3" height="8.7" fill="#141b2c" stroke="#e67872" stroke-width="0.9"/>
<line x1="594.93" y1="198.2" x2="594.93" y2="212.4" stroke="#e67872" stroke-width="1" stroke-opacity="0.85"/>
<rect x="593.43" y="199.8" width="3" height="6.3" fill="#141b2c" stroke="#e67872" stroke-width="0.9"/>
<line x1="598.73" y1="190.0" x2="598.73" y2="202.9" stroke="#e67872" stroke-width="1" stroke-opacity="0.85"/>
<rect x="597.23" y="191.1" width="3" height="10.6" fill="#141b2c" stroke="#e67872" stroke-width="0.9"/>
<line x1="602.52" y1="189.5" x2="602.52" y2="196.6" stroke="#88d3f6" stroke-width="1" stroke-opacity="0.85"/>
<rect x="600.62" y="192.2" width="3.8" height="2.1" fill="#88d3f6"/>
<line x1="606.32" y1="184.0" x2="606.32" y2="194.2" stroke="#e67872" stroke-width="1" stroke-opacity="0.85"/>
<rect x="604.82" y="191.1" width="3" height="2.4" fill="#141b2c" stroke="#e67872" stroke-width="0.9"/>
<line x1="610.11" y1="188.7" x2="610.11" y2="192.7" stroke="#88d3f6" stroke-width="1" stroke-opacity="0.85"/>
<rect x="608.21" y="190.3" width="3.8" height="1.3" fill="#88d3f6"/>
<line x1="613.91" y1="184.0" x2="613.91" y2="191.9" stroke="#e67872" stroke-width="1" stroke-opacity="0.85"/>
<rect x="612.41" y="185.2" width="3" height="5.8" fill="#141b2c" stroke="#e67872" stroke-width="0.9"/>
<line x1="617.70" y1="185.2" x2="617.70" y2="191.1" stroke="#88d3f6" stroke-width="1" stroke-opacity="0.85"/>
<rect x="615.80" y="185.9" width="3.8" height="3.6" fill="#88d3f6"/>
<line x1="621.50" y1="182.8" x2="621.50" y2="190.3" stroke="#88d3f6" stroke-width="1" stroke-opacity="0.85"/>
<rect x="619.60" y="187.1" width="3.8" height="2.1" fill="#88d3f6"/>
<line x1="625.29" y1="173.8" x2="625.29" y2="193.4" stroke="#e67872" stroke-width="1" stroke-opacity="0.85"/>
<rect x="623.79" y="174.5" width="3" height="13.6" fill="#141b2c" stroke="#e67872" stroke-width="0.9"/>
<line x1="629.09" y1="173.8" x2="629.09" y2="178.6" stroke="#88d3f6" stroke-width="1" stroke-opacity="0.85"/>
<rect x="627.19" y="174.5" width="3.8" height="2.8" fill="#88d3f6"/>
<line x1="632.88" y1="170.7" x2="632.88" y2="179.2" stroke="#e67872" stroke-width="1" stroke-opacity="0.85"/>
<rect x="631.38" y="173.8" width="3" height="2.7" fill="#141b2c" stroke="#e67872" stroke-width="0.9"/>
<line x1="636.68" y1="172.9" x2="636.68" y2="183.9" stroke="#e67872" stroke-width="1" stroke-opacity="0.85"/>
<rect x="635.18" y="175.4" width="3" height="3.2" fill="#141b2c" stroke="#e67872" stroke-width="0.9"/>
<line x1="640.47" y1="169.7" x2="640.47" y2="179.2" stroke="#e67872" stroke-width="1" stroke-opacity="0.85"/>
<rect x="638.97" y="172.9" width="3" height="3.2" fill="#141b2c" stroke="#e67872" stroke-width="0.9"/>
<line x1="644.27" y1="172.2" x2="644.27" y2="180.1" stroke="#88d3f6" stroke-width="1" stroke-opacity="0.85"/>
<rect x="642.37" y="173.8" width="3.8" height="5.4" fill="#88d3f6"/>
<line x1="648.06" y1="174.5" x2="648.06" y2="183.3" stroke="#e67872" stroke-width="1" stroke-opacity="0.85"/>
<rect x="646.56" y="175.7" width="3" height="3.5" fill="#141b2c" stroke="#e67872" stroke-width="0.9"/>
<line x1="651.86" y1="169.1" x2="651.86" y2="181.7" stroke="#e67872" stroke-width="1" stroke-opacity="0.85"/>
<rect x="650.36" y="169.7" width="3" height="7.3" fill="#141b2c" stroke="#e67872" stroke-width="0.9"/>
<line x1="655.65" y1="163.9" x2="655.65" y2="174.5" stroke="#e67872" stroke-width="1" stroke-opacity="0.85"/>
<rect x="654.15" y="167.5" width="3" height="3.2" fill="#141b2c" stroke="#e67872" stroke-width="0.9"/>
<line x1="659.45" y1="167.5" x2="659.45" y2="178.1" stroke="#88d3f6" stroke-width="1" stroke-opacity="0.85"/>
<rect x="657.55" y="168.1" width="3.8" height="6.3" fill="#88d3f6"/>
<line x1="663.24" y1="170.2" x2="663.24" y2="192.3" stroke="#88d3f6" stroke-width="1" stroke-opacity="0.85"/>
<rect x="661.34" y="174.1" width="3.8" height="11.9" fill="#88d3f6"/>
<line x1="667.04" y1="185.2" x2="667.04" y2="206.5" stroke="#88d3f6" stroke-width="1" stroke-opacity="0.85"/>
<rect x="665.14" y="193.4" width="3.8" height="6.0" fill="#88d3f6"/>
<line x1="670.83" y1="186.8" x2="670.83" y2="201.0" stroke="#e67872" stroke-width="1" stroke-opacity="0.85"/>
<rect x="669.33" y="190.7" width="3" height="9.5" fill="#141b2c" stroke="#e67872" stroke-width="0.9"/>
<line x1="674.63" y1="184.4" x2="674.63" y2="207.3" stroke="#88d3f6" stroke-width="1" stroke-opacity="0.85"/>
<rect x="672.73" y="190.7" width="3.8" height="7.1" fill="#88d3f6"/>
<line x1="678.42" y1="194.7" x2="678.42" y2="211.3" stroke="#e67872" stroke-width="1" stroke-opacity="0.85"/>
<rect x="676.92" y="196.0" width="3" height="3.5" fill="#141b2c" stroke="#e67872" stroke-width="0.9"/>
<line x1="682.22" y1="194.4" x2="682.22" y2="211.8" stroke="#88d3f6" stroke-width="1" stroke-opacity="0.85"/>
<rect x="680.32" y="195.0" width="3.8" height="15.5" fill="#88d3f6"/>
<line x1="686.01" y1="202.6" x2="686.01" y2="220.0" stroke="#88d3f6" stroke-width="1" stroke-opacity="0.85"/>
<rect x="684.12" y="209.7" width="3.8" height="4.0" fill="#88d3f6"/>
<line x1="689.81" y1="202.6" x2="689.81" y2="216.0" stroke="#e67872" stroke-width="1" stroke-opacity="0.85"/>
<rect x="688.31" y="203.4" width="3" height="11.9" fill="#141b2c" stroke="#e67872" stroke-width="0.9"/>
<line x1="693.60" y1="200.2" x2="693.60" y2="216.5" stroke="#88d3f6" stroke-width="1" stroke-opacity="0.85"/>
<rect x="691.70" y="205.0" width="3.8" height="7.9" fill="#88d3f6"/>
<line x1="697.40" y1="211.8" x2="697.40" y2="221.6" stroke="#88d3f6" stroke-width="1" stroke-opacity="0.85"/>
<rect x="695.50" y="212.9" width="3.8" height="4.3" fill="#88d3f6"/>
<line x1="701.19" y1="216.0" x2="701.19" y2="226.3" stroke="#88d3f6" stroke-width="1" stroke-opacity="0.85"/>
<rect x="699.29" y="216.8" width="3.8" height="1.6" fill="#88d3f6"/>
<line x1="704.99" y1="210.2" x2="704.99" y2="220.3" stroke="#e67872" stroke-width="1" stroke-opacity="0.85"/>
<rect x="703.49" y="211.3" width="3" height="8.4" fill="#141b2c" stroke="#e67872" stroke-width="0.9"/>
<line x1="708.78" y1="210.8" x2="708.78" y2="220.8" stroke="#88d3f6" stroke-width="1" stroke-opacity="0.85"/>
<rect x="706.88" y="211.8" width="3.8" height="4.7" fill="#88d3f6"/>
<line x1="712.58" y1="200.7" x2="712.58" y2="218.4" stroke="#e67872" stroke-width="1" stroke-opacity="0.85"/>
<rect x="711.08" y="201.3" width="3" height="16.3" fill="#141b2c" stroke="#e67872" stroke-width="0.9"/>
<line x1="716.37" y1="200.2" x2="716.37" y2="207.3" stroke="#88d3f6" stroke-width="1" stroke-opacity="0.85"/>
<rect x="714.47" y="201.3" width="3.8" height="1.6" fill="#88d3f6"/>
<line x1="720.17" y1="196.3" x2="720.17" y2="205.0" stroke="#e67872" stroke-width="1" stroke-opacity="0.85"/>
<rect x="718.67" y="201.3" width="3" height="2.5" fill="#141b2c" stroke="#e67872" stroke-width="0.9"/>
<line x1="723.96" y1="196.3" x2="723.96" y2="206.5" stroke="#88d3f6" stroke-width="1" stroke-opacity="0.85"/>
<rect x="722.06" y="198.6" width="3.8" height="7.1" fill="#88d3f6"/>
<line x1="727.76" y1="199.1" x2="727.76" y2="212.1" stroke="#88d3f6" stroke-width="1" stroke-opacity="0.85"/>
<rect x="725.86" y="205.8" width="3.8" height="5.5" fill="#88d3f6"/>
<line x1="731.55" y1="206.5" x2="731.55" y2="220.0" stroke="#88d3f6" stroke-width="1" stroke-opacity="0.85"/>
<rect x="729.65" y="210.2" width="3.8" height="3.8" fill="#88d3f6"/>
<line x1="735.35" y1="209.2" x2="735.35" y2="218.1" stroke="#e67872" stroke-width="1" stroke-opacity="0.85"/>
<rect x="733.85" y="210.5" width="3" height="3.5" fill="#141b2c" stroke="#e67872" stroke-width="0.9"/>
<line x1="739.14" y1="205.8" x2="739.14" y2="212.9" stroke="#e67872" stroke-width="1" stroke-opacity="0.85"/>
<rect x="737.64" y="206.5" width="3" height="4.3" fill="#141b2c" stroke="#e67872" stroke-width="0.9"/>
<line x1="742.94" y1="193.9" x2="742.94" y2="208.6" stroke="#e67872" stroke-width="1" stroke-opacity="0.85"/>
<rect x="741.44" y="196.3" width="3" height="11.1" fill="#141b2c" stroke="#e67872" stroke-width="0.9"/>
<line x1="746.73" y1="194.4" x2="746.73" y2="205.0" stroke="#e67872" stroke-width="1" stroke-opacity="0.85"/>
<rect x="745.23" y="195.5" width="3" height="5.8" fill="#141b2c" stroke="#e67872" stroke-width="0.9"/>
<line x1="750.53" y1="192.3" x2="750.53" y2="200.7" stroke="#88d3f6" stroke-width="1" stroke-opacity="0.85"/>
<rect x="748.63" y="196.3" width="3.8" height="3.2" fill="#88d3f6"/>
<line x1="754.32" y1="197.8" x2="754.32" y2="208.9" stroke="#88d3f6" stroke-width="1" stroke-opacity="0.85"/>
<rect x="752.42" y="199.4" width="3.8" height="4.7" fill="#88d3f6"/>
<line x1="758.12" y1="193.9" x2="758.12" y2="207.3" stroke="#e67872" stroke-width="1" stroke-opacity="0.85"/>
<rect x="756.62" y="194.7" width="3" height="10.3" fill="#141b2c" stroke="#e67872" stroke-width="0.9"/>
<line x1="761.91" y1="188.1" x2="761.91" y2="196.0" stroke="#e67872" stroke-width="1" stroke-opacity="0.85"/>
<rect x="760.41" y="188.9" width="3" height="6.3" fill="#141b2c" stroke="#e67872" stroke-width="0.9"/>
<line x1="765.71" y1="187.8" x2="765.71" y2="194.1" stroke="#88d3f6" stroke-width="1" stroke-opacity="0.85"/>
<rect x="763.81" y="189.3" width="3.8" height="3.2" fill="#88d3f6"/>
<line x1="769.50" y1="184.1" x2="769.50" y2="192.0" stroke="#e67872" stroke-width="1" stroke-opacity="0.85"/>
<rect x="768.00" y="187.8" width="3" height="3.5" fill="#141b2c" stroke="#e67872" stroke-width="0.9"/>
<line x1="773.30" y1="185.2" x2="773.30" y2="192.0" stroke="#88d3f6" stroke-width="1" stroke-opacity="0.85"/>
<rect x="771.40" y="187.3" width="3.8" height="4.0" fill="#88d3f6"/>
<line x1="777.09" y1="188.9" x2="777.09" y2="196.8" stroke="#88d3f6" stroke-width="1" stroke-opacity="0.85"/>
<rect x="775.19" y="190.5" width="3.8" height="2.4" fill="#88d3f6"/>
<line x1="780.89" y1="187.8" x2="780.89" y2="194.1" stroke="#e67872" stroke-width="1" stroke-opacity="0.85"/>
<rect x="779.39" y="190.5" width="3" height="2.7" fill="#141b2c" stroke="#e67872" stroke-width="0.9"/>
<line x1="784.68" y1="189.7" x2="784.68" y2="198.4" stroke="#88d3f6" stroke-width="1" stroke-opacity="0.85"/>
<rect x="782.78" y="191.2" width="3.8" height="4.7" fill="#88d3f6"/>
<line x1="788.48" y1="192.8" x2="788.48" y2="201.0" stroke="#88d3f6" stroke-width="1" stroke-opacity="0.85"/>
<rect x="786.58" y="194.1" width="3.8" height="1.9" fill="#88d3f6"/>
<line x1="792.27" y1="192.8" x2="792.27" y2="199.9" stroke="#e67872" stroke-width="1" stroke-opacity="0.85"/>
<rect x="790.77" y="194.4" width="3" height="3.2" fill="#141b2c" stroke="#e67872" stroke-width="0.9"/>
<line x1="796.07" y1="173.1" x2="796.07" y2="197.6" stroke="#e67872" stroke-width="1" stroke-opacity="0.85"/>
<rect x="794.57" y="175.1" width="3" height="18.5" fill="#141b2c" stroke="#e67872" stroke-width="0.9"/>
<line x1="799.86" y1="165.2" x2="799.86" y2="177.3" stroke="#e67872" stroke-width="1" stroke-opacity="0.85"/>
<rect x="798.36" y="165.9" width="3" height="10.3" fill="#141b2c" stroke="#e67872" stroke-width="0.9"/>
<line x1="803.66" y1="164.0" x2="803.66" y2="174.6" stroke="#88d3f6" stroke-width="1" stroke-opacity="0.85"/>
<rect x="801.76" y="165.9" width="3.8" height="7.6" fill="#88d3f6"/>
<line x1="807.45" y1="172.6" x2="807.45" y2="188.1" stroke="#88d3f6" stroke-width="1" stroke-opacity="0.85"/>
<rect x="805.55" y="173.5" width="3.8" height="13.8" fill="#88d3f6"/>
<line x1="811.25" y1="186.2" x2="811.25" y2="197.2" stroke="#88d3f6" stroke-width="1" stroke-opacity="0.85"/>
<rect x="809.35" y="187.3" width="3.8" height="4.7" fill="#88d3f6"/>
<line x1="815.04" y1="184.9" x2="815.04" y2="193.6" stroke="#e67872" stroke-width="1" stroke-opacity="0.85"/>
<rect x="813.54" y="186.2" width="3" height="5.4" fill="#141b2c" stroke="#e67872" stroke-width="0.9"/>
<line x1="818.84" y1="184.1" x2="818.84" y2="188.9" stroke="#e67872" stroke-width="1" stroke-opacity="0.85"/>
<rect x="817.34" y="185.2" width="3" height="2.1" fill="#141b2c" stroke="#e67872" stroke-width="0.9"/>
<line x1="822.63" y1="182.5" x2="822.63" y2="187.3" stroke="#e67872" stroke-width="1" stroke-opacity="0.85"/>
<rect x="821.13" y="183.0" width="3" height="2.7" fill="#141b2c" stroke="#e67872" stroke-width="0.9"/>
<line x1="826.43" y1="181.8" x2="826.43" y2="192.0" stroke="#88d3f6" stroke-width="1" stroke-opacity="0.85"/>
<rect x="824.53" y="183.7" width="3.8" height="6.0" fill="#88d3f6"/>
<line x1="830.22" y1="186.5" x2="830.22" y2="195.2" stroke="#e67872" stroke-width="1" stroke-opacity="0.85"/>
<rect x="828.72" y="188.1" width="3" height="2.4" fill="#141b2c" stroke="#e67872" stroke-width="0.9"/>
<line x1="834.02" y1="178.6" x2="834.02" y2="190.5" stroke="#e67872" stroke-width="1" stroke-opacity="0.85"/>
<rect x="832.52" y="179.4" width="3" height="9.5" fill="#141b2c" stroke="#e67872" stroke-width="0.9"/>
<line x1="837.81" y1="174.6" x2="837.81" y2="181.4" stroke="#e67872" stroke-width="1" stroke-opacity="0.85"/>
<rect x="836.31" y="176.2" width="3" height="4.0" fill="#141b2c" stroke="#e67872" stroke-width="0.9"/>
<line x1="841.61" y1="172.3" x2="841.61" y2="178.6" stroke="#e67872" stroke-width="1" stroke-opacity="0.85"/>
<rect x="840.11" y="174.2" width="3" height="3.2" fill="#141b2c" stroke="#e67872" stroke-width="0.9"/>
<line x1="845.40" y1="164.4" x2="845.40" y2="175.4" stroke="#e67872" stroke-width="1" stroke-opacity="0.85"/>
<rect x="843.90" y="165.2" width="3" height="9.5" fill="#141b2c" stroke="#e67872" stroke-width="0.9"/>
<line x1="849.20" y1="156.5" x2="849.20" y2="169.1" stroke="#e67872" stroke-width="1" stroke-opacity="0.85"/>
<rect x="847.70" y="157.2" width="3" height="8.4" fill="#141b2c" stroke="#e67872" stroke-width="0.9"/>
<line x1="852.99" y1="156.5" x2="852.99" y2="166.7" stroke="#88d3f6" stroke-width="1" stroke-opacity="0.85"/>
<rect x="851.09" y="157.2" width="3.8" height="6.3" fill="#88d3f6"/>
<line x1="856.79" y1="157.2" x2="856.79" y2="166.7" stroke="#e67872" stroke-width="1" stroke-opacity="0.85"/>
<rect x="855.29" y="158.0" width="3" height="4.0" fill="#141b2c" stroke="#e67872" stroke-width="0.9"/>
<line x1="860.58" y1="155.7" x2="860.58" y2="162.0" stroke="#88d3f6" stroke-width="1" stroke-opacity="0.85"/>
<rect x="858.68" y="157.2" width="3.8" height="2.4" fill="#88d3f6"/>
<line x1="864.38" y1="150.5" x2="864.38" y2="161.2" stroke="#e67872" stroke-width="1" stroke-opacity="0.85"/>
<rect x="862.88" y="151.4" width="3" height="6.6" fill="#141b2c" stroke="#e67872" stroke-width="0.9"/>
<line x1="868.17" y1="145.1" x2="868.17" y2="153.0" stroke="#e67872" stroke-width="1" stroke-opacity="0.85"/>
<rect x="866.67" y="146.7" width="3" height="5.1" fill="#141b2c" stroke="#e67872" stroke-width="0.9"/>
<line x1="871.97" y1="141.4" x2="871.97" y2="148.2" stroke="#e67872" stroke-width="1" stroke-opacity="0.85"/>
<rect x="870.47" y="142.2" width="3" height="5.1" fill="#141b2c" stroke="#e67872" stroke-width="0.9"/>
<line x1="875.76" y1="139.9" x2="875.76" y2="146.7" stroke="#88d3f6" stroke-width="1" stroke-opacity="0.85"/>
<rect x="873.87" y="142.2" width="3.8" height="2.4" fill="#88d3f6"/>
<line x1="879.56" y1="139.9" x2="879.56" y2="149.3" stroke="#88d3f6" stroke-width="1" stroke-opacity="0.85"/>
<rect x="877.66" y="143.8" width="3.8" height="4.0" fill="#88d3f6"/>
<line x1="883.35" y1="143.8" x2="883.35" y2="154.1" stroke="#88d3f6" stroke-width="1" stroke-opacity="0.85"/>
<rect x="881.45" y="147.8" width="3.8" height="5.2" fill="#88d3f6"/>
<line x1="887.15" y1="148.6" x2="887.15" y2="159.6" stroke="#88d3f6" stroke-width="1" stroke-opacity="0.85"/>
<rect x="885.25" y="151.7" width="3.8" height="5.5" fill="#88d3f6"/>
<line x1="890.94" y1="146.7" x2="890.94" y2="158.8" stroke="#e67872" stroke-width="1" stroke-opacity="0.85"/>
<rect x="889.44" y="147.3" width="3" height="10.4" fill="#141b2c" stroke="#e67872" stroke-width="0.9"/>
<line x1="894.74" y1="143.8" x2="894.74" y2="153.3" stroke="#88d3f6" stroke-width="1" stroke-opacity="0.85"/>
<rect x="892.84" y="146.7" width="3.8" height="4.7" fill="#88d3f6"/>
<line x1="898.53" y1="147.0" x2="898.53" y2="154.9" stroke="#e67872" stroke-width="1" stroke-opacity="0.85"/>
<rect x="897.03" y="148.2" width="3" height="3.5" fill="#141b2c" stroke="#e67872" stroke-width="0.9"/>
<line x1="902.33" y1="145.1" x2="902.33" y2="150.9" stroke="#e67872" stroke-width="1" stroke-opacity="0.85"/>
<rect x="900.83" y="145.7" width="3" height="3.6" fill="#141b2c" stroke="#e67872" stroke-width="0.9"/>
<line x1="906.12" y1="145.4" x2="906.12" y2="157.2" stroke="#88d3f6" stroke-width="1" stroke-opacity="0.85"/>
<rect x="904.22" y="146.2" width="3.8" height="10.3" fill="#88d3f6"/>
<line x1="909.92" y1="150.9" x2="909.92" y2="157.2" stroke="#e67872" stroke-width="1" stroke-opacity="0.85"/>
<rect x="908.42" y="151.7" width="3" height="4.7" fill="#141b2c" stroke="#e67872" stroke-width="0.9"/>
<line x1="913.71" y1="150.1" x2="913.71" y2="155.2" stroke="#e67872" stroke-width="1" stroke-opacity="0.85"/>
<rect x="912.21" y="151.4" width="3" height="2.2" fill="#141b2c" stroke="#e67872" stroke-width="0.9"/>
<line x1="917.51" y1="145.1" x2="917.51" y2="155.2" stroke="#e67872" stroke-width="1" stroke-opacity="0.85"/>
<rect x="916.01" y="146.2" width="3" height="5.5" fill="#141b2c" stroke="#e67872" stroke-width="0.9"/>
<line x1="921.30" y1="144.2" x2="921.30" y2="153.7" stroke="#88d3f6" stroke-width="1" stroke-opacity="0.85"/>
<rect x="919.40" y="145.7" width="3.8" height="4.2" fill="#88d3f6"/>
<line x1="925.10" y1="135.5" x2="925.10" y2="146.5" stroke="#d6d02a" stroke-width="1.4"/>
<circle cx="925.10" cy="146.3" r="1.8" fill="#141b2c" stroke="#e4de30" stroke-width="1"/>
<polyline points="0.0,296.6 19.8,291.5 39.6,286.1 59.4,281.2 79.2,277.2 99.0,273.3 118.8,269.3 138.6,264.4 158.4,259.4 178.2,253.1 200.0,246.5 215.0,242.3 230.0,238.1 239.9,234.8 249.8,231.2 259.7,227.8 269.6,224.3 279.5,220.9 289.4,217.3 299.3,213.8 309.2,210.4 319.1,207.0 329.0,203.9 338.9,201.1 348.8,198.5 358.7,195.9 368.6,193.6 378.5,191.6 388.4,189.6 398.3,188.0 408.2,186.2 418.1,184.9 430.0,183.3 440.0,181.3 450.0,179.5 459.9,178.1 469.8,176.5 479.7,174.9 489.6,173.9 499.5,173.1 509.4,172.5 529.2,172.1 549.0,171.7 568.8,171.3 588.6,170.9 608.4,170.1 628.2,169.0 640.0,168.0 649.9,166.8 659.8,166.2 679.6,166.6 699.4,167.2 719.2,167.6 739.0,168.6 758.8,169.2 778.6,169.6 798.4,170.0 818.2,170.0 839.6,169.1 859.4,168.5 879.2,168.1 899.0,167.9 925.1,168.5" fill="none" stroke="#8a4a22" stroke-width="1.0" stroke-linejoin="round" />
<polyline points="0.0,248.5 9.9,244.0 19.8,238.6 29.7,233.7 39.6,229.3 49.5,225.3 59.4,222.2 69.3,219.4 80.0,216.7 89.9,214.8 99.8,212.2 109.7,209.6 119.6,207.2 129.5,204.9 139.4,202.3 149.3,199.7 159.2,197.3 169.1,194.4 179.0,191.4 188.9,188.4 198.8,185.4 208.7,182.5 218.6,179.5 228.5,175.9 238.4,172.6 248.3,168.6 258.2,164.7 270.0,160.6 279.9,157.1 289.8,153.2 299.7,149.6 309.6,146.8 319.5,144.3 329.4,142.3 339.3,140.9 349.2,139.7 359.1,139.3 369.0,138.7 378.9,138.3 388.8,138.3 398.7,138.7 408.6,139.3 418.5,139.3 428.4,138.9 448.2,138.9 459.9,138.9 469.8,138.9 479.7,139.3 489.6,139.9 499.5,141.2 509.4,142.8 519.3,144.8 529.2,147.2 539.1,149.8 549.0,152.3 558.9,155.1 568.8,157.7 578.7,160.2 588.6,162.6 598.5,165.0 608.4,167.0 618.3,169.0 628.2,170.9 638.1,172.5 649.9,174.6 659.8,177.9 669.7,181.5 679.6,185.0 689.5,187.8 699.4,190.4 709.3,193.0 719.2,195.0 729.1,196.9 739.0,198.3 748.9,199.7 758.8,200.5 768.7,200.9 778.6,201.3 788.5,201.7 798.4,201.7 808.3,201.7 818.2,201.3 828.1,200.9 839.6,200.6 849.5,199.6 859.4,198.4 869.3,197.2 879.2,195.6 889.1,193.7 899.0,191.7 908.9,189.3 918.8,187.3 925.1,185.7" fill="none" stroke="#b848e0" stroke-width="1.1" stroke-linejoin="round" />
<polyline points="0.0,223.8 9.9,219.2 19.8,214.9 29.7,210.9 39.6,207.9 49.5,205.0 59.4,203.0 69.3,201.6 80.0,200.3 89.9,199.3 99.8,197.7 109.7,196.3 119.6,194.4 129.5,191.8 139.4,189.0 149.3,186.4 159.2,183.1 169.1,179.5 179.0,175.9 188.9,172.6 198.8,169.6 208.7,167.2 218.6,164.1 228.5,161.3 238.4,158.7 248.3,155.7 258.2,152.8 268.1,149.8 279.9,146.2 289.8,142.9 299.7,139.7 309.6,136.3 319.5,133.8 329.4,131.4 339.3,129.4 349.2,127.8 359.1,126.4 369.0,125.0 378.9,123.5 388.8,122.5 398.7,122.5 408.6,122.9 418.5,123.5 428.4,123.9 438.3,125.0 448.2,127.4 459.9,130.9 469.8,134.5 479.7,137.9 489.6,141.8 499.5,145.8 509.4,149.8 519.3,154.3 529.2,158.7 539.1,163.0 549.0,167.6 558.9,171.5 568.8,176.1 578.7,180.0 588.6,184.0 598.5,188.0 608.4,191.3 618.3,193.3 628.2,194.3 638.1,195.3 649.9,195.7 659.8,197.3 669.7,198.9 679.6,200.9 689.5,202.3 699.4,203.7 709.3,204.9 719.2,205.2 729.1,205.6 739.0,205.6 748.9,205.2 758.8,204.9 768.7,203.7 778.6,202.3 788.5,200.9 798.4,199.3 808.3,198.3 818.2,197.3 828.1,196.3 839.6,194.3 849.5,192.3 859.4,190.3 869.3,188.3 879.2,186.3 889.1,185.0 899.0,183.8 908.9,183.0 918.8,182.0 925.1,181.4" fill="none" stroke="#545ae6" stroke-width="1.1" stroke-linejoin="round" />
<polyline points="0.0,185.1 9.7,181.5 19.4,178.3 29.1,175.4 34.0,174.1 38.8,173.5 48.5,173.2 60.0,174.8 71.1,177.0 80.0,177.5 89.9,179.9 99.8,182.5 109.7,184.5 119.6,185.8 129.5,185.8 139.4,184.5 145.3,182.5 151.3,179.1 159.2,173.6 169.1,166.6 179.0,159.7 188.9,152.8 198.8,145.8 208.7,138.9 218.6,132.4 224.9,127.2 240.7,120.1 256.5,113.7 270.0,110.0 279.9,105.6 289.8,101.7 299.7,98.7 309.6,95.3 319.5,92.8 329.4,90.4 333.4,89.8 339.3,91.4 349.2,96.7 359.1,102.7 369.0,109.6 378.9,117.5 388.8,125.4 398.7,134.4 408.6,142.3 418.5,150.2 428.4,157.1 438.3,162.1 450.0,169.0 455.9,173.5 461.9,177.5 469.8,182.4 479.7,188.4 489.6,191.3 499.5,194.3 509.4,199.3 519.3,205.2 529.2,210.5 539.1,214.1 549.0,216.1 558.9,219.1 568.8,221.4 578.7,222.0 588.6,222.0 596.5,221.4 604.5,218.1 612.4,215.1 620.3,211.7 628.2,208.2 638.1,203.2 640.0,202.1 645.9,198.5 651.9,194.4 657.8,190.4 663.8,187.8 669.7,186.8 675.6,186.4 681.6,186.8 689.5,187.8 699.4,190.4 709.3,193.4 719.2,196.3 729.1,198.9 735.0,200.3 743.0,201.7 750.9,202.9 758.8,203.7 766.7,202.9 774.7,201.7 782.6,200.9 790.5,199.7 798.4,197.3 806.3,195.0 814.3,193.4 822.2,191.8 830.1,189.4 839.6,187.7 849.5,184.4 859.4,180.4 869.3,175.8 879.2,171.1 889.1,167.5 899.0,164.6 908.9,160.6 918.8,157.2 925.1,154.7" fill="none" stroke="#f08a30" stroke-width="1.05" stroke-linejoin="round" />
<polyline points="0.0,175.9 2.9,174.9 6.7,173.6 10.5,171.2 14.3,167.1 18.1,163.4 21.9,162.5 25.7,160.2 29.5,159.3 33.3,161.8 37.1,165.5 40.9,167.8 44.7,170.1 48.5,172.8 52.2,177.6 56.0,182.0 59.8,189.6 63.6,195.1 67.4,199.4 71.2,201.3 75.0,198.4 78.8,193.4 82.6,190.4 86.4,191.7 90.2,191.2 94.0,193.6 97.8,196.2 101.6,197.5 105.4,194.0 109.2,190.1 113.0,184.7 116.8,178.0 120.6,174.4 124.4,171.6 128.2,170.8 131.9,170.0 135.7,168.1 139.5,164.9 143.3,162.2 147.1,156.4 150.9,151.9 154.7,149.1 158.5,142.9 162.3,135.6 166.1,129.7 169.9,126.5 173.7,123.2 177.5,120.5 181.3,121.3 185.1,122.2 188.9,121.7 192.7,120.9 196.5,122.4 200.3,121.2 204.1,122.9 207.8,122.3 211.6,120.1 215.4,118.2 219.2,118.0 223.0,114.6 226.8,112.5 230.6,112.9 234.4,113.8 238.2,113.2 242.0,112.5 245.8,111.5 249.6,109.6 253.4,107.0 257.2,103.5 261.0,99.7 264.8,94.4 268.6,89.1 272.4,83.9 276.2,79.5 279.9,75.4 283.7,77.2 287.5,77.2 291.3,79.4 295.1,84.7 298.9,90.8 302.7,91.1 306.5,91.6 310.3,91.2 314.1,88.8 317.9,85.6 321.7,87.0 325.5,90.2 329.3,94.2 333.1,96.9 336.9,108.0 340.7,119.8 344.5,129.7 348.3,139.2 352.1,149.0 355.9,150.1 359.6,147.8 363.4,144.7 367.2,141.8 371.0,142.0 374.8,144.7 378.6,146.4 382.4,151.5 386.2,155.4 390.0,157.7 393.8,162.6 397.6,169.7 401.4,173.0 405.2,175.2 409.0,177.5 412.8,175.0 416.6,171.8 420.4,170.2 424.2,172.6 428.0,174.2 431.8,172.9 435.5,172.9 439.3,174.3 443.1,180.3 446.9,184.9 450.7,193.5 454.5,199.3 458.3,205.8 462.1,202.9 465.9,199.9 469.7,198.7 473.5,201.5 477.3,204.5 481.1,208.3 484.9,211.0 488.7,210.4 492.5,208.6 496.3,206.7 500.1,204.9 503.9,205.2 507.6,211.5 511.4,218.1 515.2,223.0 519.0,229.4 522.8,235.6 526.6,236.9 530.4,234.0 534.2,230.8 538.0,228.1 541.8,226.4 545.6,223.7 549.4,223.4 553.2,223.8 557.0,223.4 560.8,224.5 564.6,226.9 568.4,224.8 572.2,221.3 576.0,219.8 579.8,215.8 583.5,211.4 587.3,211.0 591.1,211.5 594.9,208.3 598.7,204.1 602.5,200.6 606.3,196.3 610.1,193.6 613.9,190.6 617.7,190.3 621.5,189.3 625.3,186.0 629.1,183.1 632.9,180.8 636.7,178.0 640.5,174.8 644.3,175.7 648.1,175.4 651.9,174.6 655.7,173.0 659.4,173.3 663.2,174.7 667.0,179.4 670.8,183.6 674.6,189.7 678.4,194.0 682.2,198.9 686.0,201.7 689.8,204.3 693.6,207.3 697.4,211.5 701.2,213.1 705.0,212.6 708.8,215.2 712.6,212.9 716.4,210.1 720.2,206.7 724.0,205.6 727.8,204.5 731.6,207.1 735.3,208.6 739.1,209.6 742.9,207.7 746.7,204.6 750.5,201.6 754.3,200.4 758.1,198.0 761.9,196.5 765.7,195.9 769.5,193.6 773.3,191.0 777.1,190.6 780.9,191.0 784.7,191.7 788.5,193.3 792.3,193.9 796.1,190.4 799.9,185.5 803.7,181.0 807.5,179.3 811.2,178.8 815.0,181.0 818.8,184.9 822.6,186.8 826.4,187.2 830.2,186.4 834.0,185.1 837.8,183.3 841.6,181.5 845.4,176.6 849.2,170.4 853.0,167.3 856.8,163.6 860.6,160.7 864.4,158.0 868.2,155.9 872.0,151.6 875.8,148.9 879.6,146.5 883.4,146.8 887.1,149.0 890.9,150.0 894.7,151.3 898.5,151.4 902.3,150.0 906.1,149.8 909.9,150.7 913.7,150.7 917.5,150.3 921.3,151.1 925.1,149.1" fill="none" stroke="#aee672" stroke-width="0.9" stroke-linejoin="round" />
</g>
<rect x="11.3" y="146.1" width="6" height="6" fill="#e67872"/>
<g font-family='"DejaVu Sans", Verdana, "Liberation Sans", sans-serif' fill="#e67872" clip-path="url(#c1)"><text transform="translate(13.0,130.0) scale(1,1.0)" font-size="11.2">07/14</text><text transform="translate(13.0,144.3) scale(1,1.0)" font-size="11.2">139.394</text></g>
<rect x="60.6" y="220.6" width="6" height="6" fill="#88d3f6"/>
<g font-family='"DejaVu Sans", Verdana, "Liberation Sans", sans-serif' fill="#88d3f6" clip-path="url(#c1)"><text transform="translate(62.3,237.7) scale(1,1.0)" font-size="11.2">08/02</text><text transform="translate(62.3,251.7) scale(1,1.0)" font-size="11.2">130.386</text></g>
<rect x="159.3" y="103.6" width="6" height="6" fill="#e67872"/>
<g font-family='"DejaVu Sans", Verdana, "Liberation Sans", sans-serif' fill="#e67872" clip-path="url(#c1)"><text transform="translate(161.0,87.5) scale(1,1.0)" font-size="11.2">09/07</text><text transform="translate(161.0,101.8) scale(1,1.0)" font-size="11.2">144.989</text></g>
<rect x="201.1" y="144.9" width="6" height="6" fill="#88d3f6"/>
<g font-family='"DejaVu Sans", Verdana, "Liberation Sans", sans-serif' fill="#88d3f6" clip-path="url(#c1)"><text transform="translate(202.8,162.0) scale(1,1.0)" font-size="11.2">09/22</text><text transform="translate(202.8,176.0) scale(1,1.0)" font-size="11.2">140.341</text></g>
<rect x="280.7" y="50.7" width="6" height="6" fill="#e67872"/>
<g font-family='"DejaVu Sans", Verdana, "Liberation Sans", sans-serif' fill="#e67872" clip-path="url(#c1)"><text transform="translate(282.4,34.6) scale(1,1.0)" font-size="11.2">10/21</text><text transform="translate(282.4,48.9) scale(1,1.0)" font-size="11.2">151.945</text></g>
<rect x="394.6" y="196.0" width="6" height="6" fill="#88d3f6"/>
<g font-family='"DejaVu Sans", Verdana, "Liberation Sans", sans-serif' fill="#88d3f6" clip-path="url(#c1)"><text transform="translate(396.3,213.1) scale(1,1.0)" font-size="11.2">12/02</text><text transform="translate(396.3,227.1) scale(1,1.0)" font-size="11.2">133.616</text></g>
<rect x="428.8" y="155.4" width="6" height="6" fill="#e67872"/>
<g font-family='"DejaVu Sans", Verdana, "Liberation Sans", sans-serif' fill="#e67872" clip-path="url(#c1)"><text transform="translate(430.4,139.3) scale(1,1.0)" font-size="11.2">12/15</text><text transform="translate(430.4,153.6) scale(1,1.0)" font-size="11.2">138.173</text></g>
<rect x="512.2" y="244.7" width="6" height="6" fill="#88d3f6"/>
<g font-family='"DejaVu Sans", Verdana, "Liberation Sans", sans-serif' fill="#88d3f6" clip-path="url(#c1)"><text transform="translate(513.9,261.8) scale(1,1.0)" font-size="11.2">01/16</text><text transform="translate(513.9,275.8) scale(1,1.0)" font-size="11.2">127.211</text></g>
<rect x="652.7" y="157.4" width="6" height="6" fill="#e67872"/>
<g font-family='"DejaVu Sans", Verdana, "Liberation Sans", sans-serif' fill="#e67872" clip-path="url(#c1)"><text transform="translate(654.4,141.3) scale(1,1.0)" font-size="11.2">03/08</text><text transform="translate(654.4,155.6) scale(1,1.0)" font-size="11.2">137.909</text></g>
<rect x="698.2" y="226.2" width="6" height="6" fill="#88d3f6"/>
<g font-family='"DejaVu Sans", Verdana, "Liberation Sans", sans-serif' fill="#88d3f6" clip-path="url(#c1)"><text transform="translate(699.9,243.3) scale(1,1.0)" font-size="11.2">03/24</text><text transform="translate(699.9,257.3) scale(1,1.0)" font-size="11.2">129.643</text></g>
<rect x="922.1" y="130.1" width="6" height="6" fill="#e67872"/>
<g font-family='"DejaVu Sans", Verdana, "Liberation Sans", sans-serif' fill="#e67872" clip-path="url(#c1)"><text transform="translate(923.8,114.0) scale(1,1.0)" font-size="11.2">06/15</text><text transform="translate(923.8,128.3) scale(1,1.0)" font-size="11.2">141.504</text></g>
<g fill="#ffffff">
<polygon points="395.2,308.9 404.2,308.9 409.0,315.0 411.8,323.6 414.7,334.0 417.3,341.7 418.1,347.4 418.1,373.7 452.4,374.6 475.2,375.6 475.2,384.1 452.4,383.6 416.2,383.0 410.1,380.1 410.1,352.1 408.6,346.4 405.7,337.9 402.5,328.3 399.0,320.7 395.6,315.0"/>
<polygon points="411.4,310.2 465.1,310.2 465.1,317.9 411.4,317.9"/>
<polygon points="457.1,310.2 465.1,310.2 464.4,333.1 463.8,342.6 465.1,369.3 457.1,369.3 456.2,342.6 456.4,333.1"/>
<polygon points="416.2,343.0 458.1,343.0 458.1,350.6 416.2,350.6"/>
</g>
<g clip-path="url(#c2)">
<rect x="-2.48" y="465" width="3.2" height="3.1" fill="#5b3cc4"/>
<rect x="5.11" y="464.3" width="3.2" height="0.7" fill="#b23aa6"/>
<rect x="8.91" y="464.4" width="3.2" height="0.6" fill="#b23aa6"/>
<rect x="12.70" y="462.2" width="3.2" height="2.8" fill="#b23aa6"/>
<rect x="16.49" y="461.3" width="3.2" height="3.7" fill="#b23aa6"/>
<rect x="20.29" y="463.0" width="3.2" height="2.0" fill="#b23aa6"/>
<rect x="24.09" y="464.4" width="3.2" height="0.6" fill="#b23aa6"/>
<rect x="27.88" y="465" width="3.2" height="0.6" fill="#5b3cc4"/>
<rect x="31.68" y="465" width="3.2" height="3.7" fill="#5b3cc4"/>
<rect x="35.47" y="465" width="3.2" height="7.3" fill="#5b3cc4"/>
<rect x="39.26" y="465" width="3.2" height="7.7" fill="#5b3cc4"/>
<rect x="43.06" y="465" width="3.2" height="7.8" fill="#5b3cc4"/>
<rect x="46.85" y="465" width="3.2" height="7.7" fill="#5b3cc4"/>
<rect x="50.65" y="465" width="3.2" height="13.2" fill="#5b3cc4"/>
<rect x="54.45" y="465" width="3.2" height="17.8" fill="#5b3cc4"/>
<rect x="58.24" y="465" width="3.2" height="20.8" fill="#5b3cc4"/>
<rect x="62.04" y="465" width="3.2" height="17.4" fill="#5b3cc4"/>
<rect x="65.83" y="465" width="3.2" height="11.8" fill="#5b3cc4"/>
<rect x="69.62" y="465" width="3.2" height="9.6" fill="#5b3cc4"/>
<rect x="73.42" y="465" width="3.2" height="2.5" fill="#5b3cc4"/>
<rect x="77.22" y="462.6" width="3.2" height="2.4" fill="#b23aa6"/>
<rect x="81.01" y="460.7" width="3.2" height="4.3" fill="#b23aa6"/>
<rect x="84.81" y="465" width="3.2" height="0.6" fill="#5b3cc4"/>
<rect x="88.60" y="465" width="3.2" height="1.8" fill="#5b3cc4"/>
<rect x="92.39" y="465" width="3.2" height="1.8" fill="#5b3cc4"/>
<rect x="96.19" y="465" width="3.2" height="1.7" fill="#5b3cc4"/>
<rect x="103.78" y="461.6" width="3.2" height="3.4" fill="#b23aa6"/>
<rect x="107.58" y="458.2" width="3.2" height="6.8" fill="#b23aa6"/>
<rect x="111.37" y="454.8" width="3.2" height="10.2" fill="#b23aa6"/>
<rect x="115.17" y="451.5" width="3.2" height="13.5" fill="#b23aa6"/>
<rect x="118.96" y="453.2" width="3.2" height="11.8" fill="#b23aa6"/>
<rect x="122.75" y="455.1" width="3.2" height="9.9" fill="#b23aa6"/>
<rect x="126.55" y="457.5" width="3.2" height="7.5" fill="#b23aa6"/>
<rect x="130.34" y="457.7" width="3.2" height="7.3" fill="#b23aa6"/>
<rect x="134.14" y="456.5" width="3.2" height="8.5" fill="#b23aa6"/>
<rect x="137.94" y="456.5" width="3.2" height="8.5" fill="#b23aa6"/>
<rect x="141.73" y="457.2" width="3.2" height="7.8" fill="#b23aa6"/>
<rect x="145.53" y="456.5" width="3.2" height="8.5" fill="#b23aa6"/>
<rect x="149.32" y="456.9" width="3.2" height="8.1" fill="#b23aa6"/>
<rect x="153.12" y="458.0" width="3.2" height="7.0" fill="#b23aa6"/>
<rect x="156.91" y="453.7" width="3.2" height="11.3" fill="#b23aa6"/>
<rect x="160.71" y="451.4" width="3.2" height="13.6" fill="#b23aa6"/>
<rect x="164.50" y="451.6" width="3.2" height="13.4" fill="#b23aa6"/>
<rect x="168.30" y="457.3" width="3.2" height="7.7" fill="#b23aa6"/>
<rect x="172.09" y="461.9" width="3.2" height="3.1" fill="#b23aa6"/>
<rect x="175.89" y="459.7" width="3.2" height="5.3" fill="#b23aa6"/>
<rect x="179.68" y="463.6" width="3.2" height="1.4" fill="#b23aa6"/>
<rect x="183.48" y="465" width="3.2" height="2.2" fill="#5b3cc4"/>
<rect x="187.27" y="465" width="3.2" height="4.4" fill="#5b3cc4"/>
<rect x="191.07" y="465" width="3.2" height="5.2" fill="#5b3cc4"/>
<rect x="194.86" y="465" width="3.2" height="5.3" fill="#5b3cc4"/>
<rect x="198.66" y="465" width="3.2" height="5.1" fill="#5b3cc4"/>
<rect x="202.45" y="465" width="3.2" height="8.0" fill="#5b3cc4"/>
<rect x="206.25" y="465" width="3.2" height="8.6" fill="#5b3cc4"/>
<rect x="210.04" y="465" width="3.2" height="5.0" fill="#5b3cc4"/>
<rect x="213.84" y="465" width="3.2" height="2.6" fill="#5b3cc4"/>
<rect x="217.63" y="465" width="3.2" height="2.7" fill="#5b3cc4"/>
<rect x="221.43" y="465" width="3.2" height="2.8" fill="#5b3cc4"/>
<rect x="225.22" y="465" width="3.2" height="2.6" fill="#5b3cc4"/>
<rect x="229.02" y="465" width="3.2" height="3.3" fill="#5b3cc4"/>
<rect x="232.81" y="465" width="3.2" height="4.3" fill="#5b3cc4"/>
<rect x="236.61" y="465" width="3.2" height="2.9" fill="#5b3cc4"/>
<rect x="240.40" y="465" width="3.2" height="2.0" fill="#5b3cc4"/>
<rect x="244.20" y="465" width="3.2" height="0.8" fill="#5b3cc4"/>
<rect x="251.79" y="464.0" width="3.2" height="1.0" fill="#b23aa6"/>
<rect x="255.58" y="463.2" width="3.2" height="1.8" fill="#b23aa6"/>
<rect x="259.37" y="461.0" width="3.2" height="4.0" fill="#b23aa6"/>
<rect x="263.17" y="458.5" width="3.2" height="6.5" fill="#b23aa6"/>
<rect x="266.96" y="457.9" width="3.2" height="7.1" fill="#b23aa6"/>
<rect x="270.76" y="457.6" width="3.2" height="7.4" fill="#b23aa6"/>
<rect x="274.56" y="457.6" width="3.2" height="7.4" fill="#b23aa6"/>
<rect x="278.35" y="458.7" width="3.2" height="6.3" fill="#b23aa6"/>
<rect x="285.94" y="465" width="3.2" height="3.8" fill="#5b3cc4"/>
<rect x="289.73" y="465" width="3.2" height="6.8" fill="#5b3cc4"/>
<rect x="293.53" y="465" width="3.2" height="11.2" fill="#5b3cc4"/>
<rect x="297.32" y="465" width="3.2" height="13.4" fill="#5b3cc4"/>
<rect x="301.12" y="465" width="3.2" height="10.8" fill="#5b3cc4"/>
<rect x="304.91" y="465" width="3.2" height="6.3" fill="#5b3cc4"/>
<rect x="308.71" y="465" width="3.2" height="4.3" fill="#5b3cc4"/>
<rect x="312.50" y="465" width="3.2" height="3.9" fill="#5b3cc4"/>
<rect x="316.30" y="465" width="3.2" height="5.0" fill="#5b3cc4"/>
<rect x="320.09" y="465" width="3.2" height="6.6" fill="#5b3cc4"/>
<rect x="323.89" y="465" width="3.2" height="8.4" fill="#5b3cc4"/>
<rect x="327.69" y="465" width="3.2" height="9.5" fill="#5b3cc4"/>
<rect x="331.48" y="465" width="3.2" height="12.9" fill="#5b3cc4"/>
<rect x="335.27" y="465" width="3.2" height="19.6" fill="#5b3cc4"/>
<rect x="339.07" y="465" width="3.2" height="25.4" fill="#5b3cc4"/>
<rect x="342.87" y="465" width="3.2" height="24.8" fill="#5b3cc4"/>
<rect x="346.66" y="465" width="3.2" height="23.1" fill="#5b3cc4"/>
<rect x="350.45" y="465" width="3.2" height="19.5" fill="#5b3cc4"/>
<rect x="354.25" y="465" width="3.2" height="13.6" fill="#5b3cc4"/>
<rect x="358.04" y="465" width="3.2" height="7.4" fill="#5b3cc4"/>
<rect x="361.84" y="462.9" width="3.2" height="2.1" fill="#b23aa6"/>
<rect x="365.63" y="461.0" width="3.2" height="4.0" fill="#b23aa6"/>
<rect x="369.43" y="463.4" width="3.2" height="1.6" fill="#b23aa6"/>
<rect x="384.61" y="464.4" width="3.2" height="0.6" fill="#b23aa6"/>
<rect x="388.40" y="465" width="3.2" height="0.7" fill="#5b3cc4"/>
<rect x="392.20" y="465" width="3.2" height="4.3" fill="#5b3cc4"/>
<rect x="396.00" y="465" width="3.2" height="9.8" fill="#5b3cc4"/>
<rect x="399.79" y="465" width="3.2" height="4.1" fill="#5b3cc4"/>
<rect x="403.58" y="465" width="3.2" height="1.0" fill="#5b3cc4"/>
<rect x="407.38" y="463.5" width="3.2" height="1.5" fill="#b23aa6"/>
<rect x="411.17" y="461.4" width="3.2" height="3.6" fill="#b23aa6"/>
<rect x="414.97" y="459.0" width="3.2" height="6.0" fill="#b23aa6"/>
<rect x="418.76" y="455.8" width="3.2" height="9.2" fill="#b23aa6"/>
<rect x="422.56" y="459.5" width="3.2" height="5.5" fill="#b23aa6"/>
<rect x="426.35" y="461.0" width="3.2" height="4.0" fill="#b23aa6"/>
<rect x="430.15" y="457.3" width="3.2" height="7.7" fill="#b23aa6"/>
<rect x="433.94" y="456.6" width="3.2" height="8.4" fill="#b23aa6"/>
<rect x="437.74" y="456.4" width="3.2" height="8.6" fill="#b23aa6"/>
<rect x="441.53" y="465" width="3.2" height="2.1" fill="#5b3cc4"/>
<rect x="445.33" y="465" width="3.2" height="5.6" fill="#5b3cc4"/>
<rect x="449.12" y="465" width="3.2" height="7.2" fill="#5b3cc4"/>
<rect x="452.92" y="465" width="3.2" height="6.5" fill="#5b3cc4"/>
<rect x="456.71" y="465" width="3.2" height="5.0" fill="#5b3cc4"/>
<rect x="460.51" y="464.1" width="3.2" height="0.9" fill="#b23aa6"/>
<rect x="464.31" y="460.3" width="3.2" height="4.7" fill="#b23aa6"/>
<rect x="468.10" y="461.1" width="3.2" height="3.9" fill="#b23aa6"/>
<rect x="471.89" y="465" width="3.2" height="0.7" fill="#5b3cc4"/>
<rect x="475.69" y="465" width="3.2" height="2.6" fill="#5b3cc4"/>
<rect x="483.28" y="461.5" width="3.2" height="3.5" fill="#b23aa6"/>
<rect x="487.07" y="456.7" width="3.2" height="8.3" fill="#b23aa6"/>
<rect x="490.87" y="458.1" width="3.2" height="6.9" fill="#b23aa6"/>
<rect x="494.66" y="459.2" width="3.2" height="5.8" fill="#b23aa6"/>
<rect x="498.46" y="458.9" width="3.2" height="6.1" fill="#b23aa6"/>
<rect x="502.25" y="458.6" width="3.2" height="6.4" fill="#b23aa6"/>
<rect x="509.84" y="465" width="3.2" height="5.4" fill="#5b3cc4"/>
<rect x="513.64" y="465" width="3.2" height="7.1" fill="#5b3cc4"/>
<rect x="517.43" y="465" width="3.2" height="7.3" fill="#5b3cc4"/>
<rect x="521.23" y="465" width="3.2" height="5.1" fill="#5b3cc4"/>
<rect x="525.02" y="465" width="3.2" height="1.9" fill="#5b3cc4"/>
<rect x="528.82" y="461.4" width="3.2" height="3.6" fill="#b23aa6"/>
<rect x="532.61" y="457.5" width="3.2" height="7.5" fill="#b23aa6"/>
<rect x="536.41" y="456.2" width="3.2" height="8.8" fill="#b23aa6"/>
<rect x="540.20" y="457.0" width="3.2" height="8.0" fill="#b23aa6"/>
<rect x="544.00" y="457.3" width="3.2" height="7.7" fill="#b23aa6"/>
<rect x="547.79" y="457.3" width="3.2" height="7.7" fill="#b23aa6"/>
<rect x="551.59" y="457.2" width="3.2" height="7.8" fill="#b23aa6"/>
<rect x="555.38" y="458.1" width="3.2" height="6.9" fill="#b23aa6"/>
<rect x="559.18" y="460.5" width="3.2" height="4.5" fill="#b23aa6"/>
<rect x="562.97" y="464.5" width="3.2" height="0.5" fill="#b23aa6"/>
<rect x="566.77" y="459.5" width="3.2" height="5.5" fill="#b23aa6"/>
<rect x="570.56" y="454.4" width="3.2" height="10.6" fill="#b23aa6"/>
<rect x="574.36" y="455.8" width="3.2" height="9.2" fill="#b23aa6"/>
<rect x="578.15" y="457.0" width="3.2" height="8.0" fill="#b23aa6"/>
<rect x="581.95" y="457.8" width="3.2" height="7.2" fill="#b23aa6"/>
<rect x="585.74" y="459.6" width="3.2" height="5.4" fill="#b23aa6"/>
<rect x="589.54" y="458.6" width="3.2" height="6.4" fill="#b23aa6"/>
<rect x="593.33" y="456.3" width="3.2" height="8.7" fill="#b23aa6"/>
<rect x="597.13" y="454.4" width="3.2" height="10.6" fill="#b23aa6"/>
<rect x="600.92" y="455.0" width="3.2" height="10.0" fill="#b23aa6"/>
<rect x="604.72" y="455.8" width="3.2" height="9.2" fill="#b23aa6"/>
<rect x="608.51" y="456.5" width="3.2" height="8.5" fill="#b23aa6"/>
<rect x="612.31" y="457.6" width="3.2" height="7.4" fill="#b23aa6"/>
<rect x="616.10" y="459.5" width="3.2" height="5.5" fill="#b23aa6"/>
<rect x="619.90" y="459.7" width="3.2" height="5.3" fill="#b23aa6"/>
<rect x="623.69" y="458.8" width="3.2" height="6.2" fill="#b23aa6"/>
<rect x="627.49" y="458.8" width="3.2" height="6.2" fill="#b23aa6"/>
<rect x="631.28" y="460.5" width="3.2" height="4.5" fill="#b23aa6"/>
<rect x="635.08" y="461.6" width="3.2" height="3.4" fill="#b23aa6"/>
<rect x="638.87" y="463.1" width="3.2" height="1.9" fill="#b23aa6"/>
<rect x="646.46" y="465" width="3.2" height="3.3" fill="#5b3cc4"/>
<rect x="650.26" y="465" width="3.2" height="1.6" fill="#5b3cc4"/>
<rect x="654.05" y="465" width="3.2" height="1.5" fill="#5b3cc4"/>
<rect x="657.85" y="465" width="3.2" height="3.5" fill="#5b3cc4"/>
<rect x="661.64" y="465" width="3.2" height="8.8" fill="#5b3cc4"/>
<rect x="665.44" y="465" width="3.2" height="12.7" fill="#5b3cc4"/>
<rect x="669.23" y="465" width="3.2" height="12.1" fill="#5b3cc4"/>
<rect x="673.03" y="465" width="3.2" height="11.9" fill="#5b3cc4"/>
<rect x="676.82" y="465" width="3.2" height="11.9" fill="#5b3cc4"/>
<rect x="680.62" y="465" width="3.2" height="12.4" fill="#5b3cc4"/>
<rect x="684.41" y="465" width="3.2" height="13.6" fill="#5b3cc4"/>
<rect x="688.21" y="465" width="3.2" height="12.1" fill="#5b3cc4"/>
<rect x="692.00" y="465" width="3.2" height="11.6" fill="#5b3cc4"/>
<rect x="695.80" y="465" width="3.2" height="10.7" fill="#5b3cc4"/>
<rect x="699.59" y="465" width="3.2" height="9.8" fill="#5b3cc4"/>
<rect x="703.39" y="465" width="3.2" height="5.0" fill="#5b3cc4"/>
<rect x="707.18" y="465" width="3.2" height="3.0" fill="#5b3cc4"/>
<rect x="710.98" y="463.2" width="3.2" height="1.8" fill="#b23aa6"/>
<rect x="714.77" y="460.8" width="3.2" height="4.2" fill="#b23aa6"/>
<rect x="718.57" y="459.1" width="3.2" height="5.9" fill="#b23aa6"/>
<rect x="722.36" y="460.0" width="3.2" height="5.0" fill="#b23aa6"/>
<rect x="726.16" y="461.8" width="3.2" height="3.2" fill="#b23aa6"/>
<rect x="729.95" y="463.8" width="3.2" height="1.2" fill="#b23aa6"/>
<rect x="733.75" y="463.5" width="3.2" height="1.5" fill="#b23aa6"/>
<rect x="737.54" y="462.1" width="3.2" height="2.9" fill="#b23aa6"/>
<rect x="741.34" y="459.1" width="3.2" height="5.9" fill="#b23aa6"/>
<rect x="745.13" y="457.1" width="3.2" height="7.9" fill="#b23aa6"/>
<rect x="748.93" y="458.7" width="3.2" height="6.3" fill="#b23aa6"/>
<rect x="752.72" y="462.1" width="3.2" height="2.9" fill="#b23aa6"/>
<rect x="756.52" y="459.8" width="3.2" height="5.2" fill="#b23aa6"/>
<rect x="760.31" y="457.9" width="3.2" height="7.1" fill="#b23aa6"/>
<rect x="764.11" y="458.0" width="3.2" height="7.0" fill="#b23aa6"/>
<rect x="767.90" y="458.1" width="3.2" height="6.9" fill="#b23aa6"/>
<rect x="771.70" y="460.0" width="3.2" height="5.0" fill="#b23aa6"/>
<rect x="775.49" y="461.9" width="3.2" height="3.1" fill="#b23aa6"/>
<rect x="779.29" y="464.3" width="3.2" height="0.7" fill="#b23aa6"/>
<rect x="783.08" y="465" width="3.2" height="0.7" fill="#5b3cc4"/>
<rect x="786.88" y="465" width="3.2" height="1.9" fill="#5b3cc4"/>
<rect x="794.47" y="460.9" width="3.2" height="4.1" fill="#b23aa6"/>
<rect x="798.26" y="455.8" width="3.2" height="9.2" fill="#b23aa6"/>
<rect x="802.06" y="457.2" width="3.2" height="7.8" fill="#b23aa6"/>
<rect x="805.85" y="462.6" width="3.2" height="2.4" fill="#b23aa6"/>
<rect x="809.65" y="465" width="3.2" height="2.2" fill="#5b3cc4"/>
<rect x="813.44" y="465" width="3.2" height="3.1" fill="#5b3cc4"/>
<rect x="817.24" y="465" width="3.2" height="2.8" fill="#5b3cc4"/>
<rect x="821.03" y="465" width="3.2" height="3.5" fill="#5b3cc4"/>
<rect x="824.83" y="465" width="3.2" height="4.4" fill="#5b3cc4"/>
<rect x="828.62" y="465" width="3.2" height="4.7" fill="#5b3cc4"/>
<rect x="832.42" y="465" width="3.2" height="2.6" fill="#5b3cc4"/>
<rect x="840.01" y="464.0" width="3.2" height="1.0" fill="#b23aa6"/>
<rect x="843.80" y="460.6" width="3.2" height="4.4" fill="#b23aa6"/>
<rect x="847.60" y="457.0" width="3.2" height="8.0" fill="#b23aa6"/>
<rect x="851.39" y="457.5" width="3.2" height="7.5" fill="#b23aa6"/>
<rect x="855.19" y="458.4" width="3.2" height="6.6" fill="#b23aa6"/>
<rect x="858.98" y="459.7" width="3.2" height="5.3" fill="#b23aa6"/>
<rect x="862.78" y="459.2" width="3.2" height="5.8" fill="#b23aa6"/>
<rect x="866.57" y="458.3" width="3.2" height="6.7" fill="#b23aa6"/>
<rect x="870.37" y="457.7" width="3.2" height="7.3" fill="#b23aa6"/>
<rect x="874.16" y="459.8" width="3.2" height="5.2" fill="#b23aa6"/>
<rect x="877.96" y="463.6" width="3.2" height="1.4" fill="#b23aa6"/>
<rect x="881.75" y="465" width="3.2" height="2.2" fill="#5b3cc4"/>
<rect x="885.55" y="465" width="3.2" height="4.9" fill="#5b3cc4"/>
<rect x="889.34" y="465" width="3.2" height="4.1" fill="#5b3cc4"/>
<rect x="893.14" y="465" width="3.2" height="4.0" fill="#5b3cc4"/>
<rect x="896.93" y="465" width="3.2" height="4.0" fill="#5b3cc4"/>
<rect x="900.73" y="465" width="3.2" height="3.4" fill="#5b3cc4"/>
<rect x="904.52" y="465" width="3.2" height="5.2" fill="#5b3cc4"/>
<rect x="908.32" y="465" width="3.2" height="6.0" fill="#5b3cc4"/>
<rect x="912.11" y="465" width="3.2" height="5.2" fill="#5b3cc4"/>
<rect x="915.91" y="465" width="3.2" height="3.7" fill="#5b3cc4"/>
<rect x="919.70" y="465" width="3.2" height="2.4" fill="#5b3cc4"/>
<rect x="923.50" y="465" width="3.2" height="1.4" fill="#5b3cc4"/>
<polyline points="0.0,448.8 7.1,449.5 14.3,447.6 23.8,446.0 29.8,446.4 35.7,450.0 42.9,453.6 50.0,457.1 57.1,464.3 64.3,472.6 71.4,476.7 78.6,477.4 85.7,476.2 95.2,476.7 102.4,475.7 109.5,471.4 116.7,465.5 123.8,460.7 131.0,457.1 138.1,453.6 147.6,447.6 157.1,441.7 164.3,435.2 171.4,431.4 178.6,430.2 185.7,430.5 192.9,433.3 202.4,436.9 211.9,441.0 223.8,443.6 230.0,444.0 237.1,447.1 244.3,448.3 253.8,447.6 261.0,445.2 270.5,440.5 280.0,436.9 287.1,438.1 294.3,442.9 301.4,447.6 308.6,450.5 318.1,453.6 325.2,457.1 333.6,463.1 338.3,471.4 344.3,483.3 350.2,491.7 356.2,496.4 361.0,497.6 368.1,496.4 375.2,496.9 384.8,496.4 391.9,497.1 396.7,500.0 401.4,501.9 408.6,500.5 415.7,498.1 422.9,495.2 430.0,492.9 439.5,487.6 446.7,491.7 453.8,494.8 460.0,495.2 467.1,492.9 474.3,492.4 481.4,494.8 488.6,491.7 495.7,488.6 504.0,485.0 510.0,488.6 517.1,491.7 525.5,492.9 533.8,491.7 543.3,485.7 555.2,479.8 566.0,477.4 574.3,471.4 583.8,466.2 593.3,461.4 602.9,456.0 612.4,450.5 621.9,447.1 631.4,443.3 641.0,442.4 650.5,443.3 657.6,443.3 662.4,445.7 669.5,453.6 676.7,460.7 683.8,467.9 690.0,470.2 697.1,476.2 704.3,480.5 709.0,481.7 716.2,478.6 725.7,475.7 737.6,474.3 749.5,469.0 761.4,464.3 771.0,460.7 780.5,458.3 790.0,459.0 797.1,457.1 804.3,452.9 811.4,453.6 821.0,456.0 830.5,458.3 837.6,457.9 847.1,454.3 856.7,449.5 866.2,445.2 875.7,441.0 880.5,441.0 887.6,442.9 897.1,445.7 906.7,448.8 913.8,451.2 924.5,452.9" fill="none" stroke="#f08a30" stroke-width="1.0" stroke-linejoin="round" />
<polyline points="0.0,451.9 3.6,448.8 9.5,448.8 16.7,442.9 23.8,444.8 31.0,447.6 35.7,457.1 42.9,461.4 48.8,464.3 54.8,478.6 60.0,488.6 63.8,489.3 67.1,486.2 71.4,486.2 76.2,477.4 82.1,471.9 86.9,477.4 91.7,478.6 97.6,478.1 102.4,475.0 109.5,464.3 116.7,451.9 123.8,450.5 129.8,451.2 136.9,445.2 142.9,442.9 148.8,438.1 154.8,436.2 160.7,425.0 165.5,420.2 169.0,423.8 173.8,428.1 177.4,425.0 183.3,431.0 188.1,435.7 194.0,439.3 200.0,441.0 204.8,446.4 208.3,448.1 214.3,444.0 219.0,445.2 223.8,446.4 228.6,446.4 230.0,447.1 234.8,450.5 241.9,450.0 251.4,447.6 258.6,444.0 265.7,435.7 272.9,432.1 279.5,429.8 282.4,435.7 286.0,440.0 290.7,446.4 294.3,453.6 299.0,459.5 302.6,459.0 306.2,456.0 311.0,455.2 315.7,456.7 320.5,460.7 325.2,465.5 330.0,470.2 334.8,478.6 338.3,495.2 341.9,504.8 346.7,511.4 351.4,513.1 356.2,509.5 360.5,503.6 363.3,495.2 366.9,492.4 370.5,494.8 375.2,497.1 382.4,496.4 388.3,495.7 393.1,501.2 397.9,510.7 401.4,506.0 406.2,501.2 411.0,497.1 415.7,492.9 420.5,486.9 424.0,489.3 427.6,490.0 432.4,483.3 439.5,479.0 443.1,491.7 447.9,498.8 452.6,501.9 458.6,500.0 460.0,497.6 464.8,488.6 469.5,488.6 474.3,494.0 479.0,497.1 483.8,491.7 488.6,483.3 495.7,482.9 504.0,478.6 507.6,486.9 512.4,496.4 518.3,499.5 525.5,496.4 531.4,486.9 537.4,480.5 543.3,478.1 549.3,475.0 555.2,471.9 560.0,473.3 564.8,477.4 568.3,470.2 572.4,461.9 579.0,460.7 583.8,459.0 588.6,459.0 593.3,453.6 599.3,447.1 605.2,445.2 612.4,442.4 619.5,443.3 624.3,440.0 629.0,438.1 636.2,439.3 642.1,441.0 648.1,446.4 654.0,444.0 658.8,446.4 662.4,453.6 667.1,463.8 671.9,467.9 675.5,471.4 680.2,476.2 685.0,482.1 688.6,482.9 690.0,482.1 694.8,485.7 700.7,488.8 705.5,485.2 709.0,484.5 713.8,476.2 721.0,471.0 725.7,471.4 731.7,473.8 737.6,472.6 746.0,462.4 750.7,462.4 754.3,464.3 761.4,457.1 769.8,454.3 776.9,456.0 784.0,459.0 790.0,461.4 794.8,456.0 799.5,446.4 804.3,445.2 809.0,453.6 812.6,457.1 819.8,458.3 825.7,461.4 830.5,463.1 836.4,459.0 842.4,454.8 849.5,444.8 856.7,442.9 861.4,442.4 867.4,438.1 872.1,435.2 875.7,435.7 880.5,440.5 886.4,447.6 892.4,448.1 897.1,450.0 901.9,450.5 907.9,455.2 912.6,456.7 918.6,455.2 924.5,454.3" fill="none" stroke="#aee672" stroke-width="0.95" stroke-linejoin="round" />
</g>
</svg>
</body></html>
